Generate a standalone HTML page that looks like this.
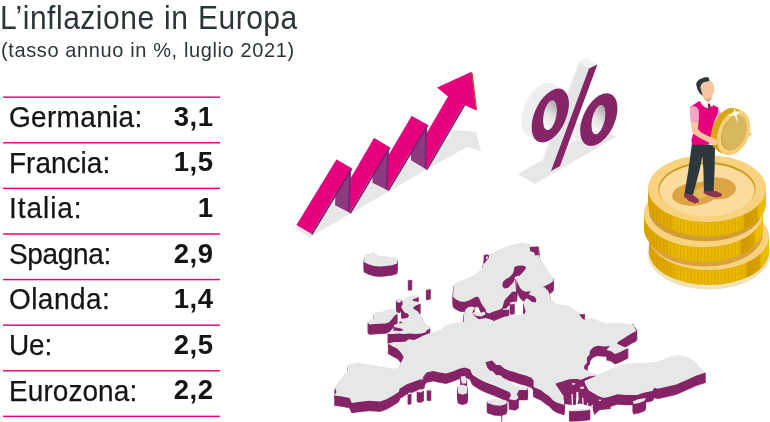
<!DOCTYPE html>
<html lang="it">
<head>
<meta charset="utf-8">
<title>L’inflazione in Europa</title>
<style>
html,body{margin:0;padding:0;background:#fff;}
body{width:770px;height:422px;position:relative;overflow:hidden;font-family:"Liberation Sans",sans-serif;color:#151515;}
h1{position:absolute;left:0.3px;top:1.8px;margin:0;font-weight:normal;font-size:32.4px;line-height:32px;letter-spacing:0.56px;word-spacing:0.65px;transform:scaleX(0.926);transform-origin:0 0;color:#2b3538;white-space:nowrap;}
p.sub{position:absolute;left:1px;top:39.2px;margin:0;font-size:21px;line-height:22px;letter-spacing:0.65px;transform:scaleX(0.952);transform-origin:0 0;color:#2b3538;white-space:nowrap;}
.tbl{position:absolute;left:0;top:0;}
.row{position:absolute;left:3px;width:217px;height:45.6px;box-sizing:border-box;}
.row .lab{position:absolute;left:6.1px;top:3.8px;-webkit-text-stroke:0.25px #151515;font-size:29.4px;line-height:32px;letter-spacing:0.47px;transform:scaleX(0.952);transform-origin:0 0;white-space:nowrap;}
.row .val{position:absolute;right:6.5px;top:3.7px;font-size:27.5px;line-height:32px;font-weight:bold;letter-spacing:0.5px;white-space:nowrap;}
svg{position:absolute;left:0;top:0;}
</style>
</head>
<body>
<h1>L’inflazione in Europa</h1>
<p class="sub">(tasso annuo in %, luglio 2021)</p>
<div class="tbl">
<div class="row" style="top:97.2px"><span class="lab" style="letter-spacing:0.34px">Germania:</span><span class="val">3,1</span></div>
<div class="row" style="top:142.8px"><span class="lab" style="letter-spacing:0.02px">Francia:</span><span class="val">1,5</span></div>
<div class="row" style="top:188.4px"><span class="lab" style="letter-spacing:1.0px">Italia:</span><span class="val">1</span></div>
<div class="row" style="top:234.0px"><span class="lab" style="letter-spacing:-0.34px">Spagna:</span><span class="val">2,9</span></div>
<div class="row" style="top:279.6px"><span class="lab" style="letter-spacing:0.47px">Olanda:</span><span class="val">1,4</span></div>
<div class="row" style="top:325.2px"><span class="lab" style="letter-spacing:-0.2px">Ue:</span><span class="val">2,5</span></div>
<div class="row" style="top:370.8px"><span class="lab" style="letter-spacing:0.08px">Eurozona:</span><span class="val">2,2</span></div>
</div>
<svg width="770" height="422" viewBox="0 0 770 422">
<g id="rules"><rect x="3" y="96.45" width="217" height="1.45" fill="#e6007e"/><rect x="3" y="142.05" width="217" height="1.45" fill="#e6007e"/><rect x="3" y="187.65" width="217" height="1.45" fill="#e6007e"/><rect x="3" y="233.25" width="217" height="1.45" fill="#e6007e"/><rect x="3" y="278.85" width="217" height="1.45" fill="#e6007e"/><rect x="3" y="324.45" width="217" height="1.45" fill="#e6007e"/><rect x="3" y="370.05" width="217" height="1.45" fill="#e6007e"/><rect x="3" y="415.65" width="217" height="1.45" fill="#e6007e"/></g>
<g id="europe"><path d="M364.4 267.6L366 264.4L370 264L373 262L376.4 264.4L380 266L386 266.4L392 267L396 267.6L397.2 269.6L397 273.6L392 275.2L386 276L380 276.6L374 276L369 274.4L364 272ZM408 289.4L411.6 289L412 290L408.4 290.2ZM426 299.2L430 298L430.6 299L426.6 300ZM367.8 332.3L368.8 330.8L373.5 328.4L374.2 324.1L376.4 322L381.3 322L385.6 320.3L390.6 318.9L394.1 319.2L396.3 321.3L397.3 324.1L394.8 325.6L392 329.1L389.1 332.3L385.6 333.4L379.9 333.7L374.2 334.1L369.2 334.5ZM402.7 310.9L405.2 308.1L409.1 306.4L413.3 305.7L416.9 305L418.6 306.4L416.9 308.1L413.3 308.9L412.3 310.4L416.2 311.4L419.7 312.3L420.4 313.8L416.9 314.9L414.7 316.3L412.9 318L414.7 319.5L417.6 321.3L419.7 324.1L421.9 327.7L423.3 331.3L426.1 334.1L429.7 336.5L429.7 338.8L426.8 340.2L425.4 342.6L421.1 343.6L415.5 344.1L409.8 343.6L404.1 344.1L398.4 343.6L393.4 344.1L388.4 344.1L387.7 343.1L391.3 341.6L395.5 340.5L399.8 341.2L403.4 340.2L401.2 338.4L397.3 337.7L394.1 336.9L393.8 335.1L396.3 334.1L399.8 333.4L402.7 332.7L399.8 331.3L400.5 329.1L404.1 328.4L407.6 327.7L409.1 325.6L407.6 323.4L404.8 322.7L402.7 319.9L401.2 317L402.7 314.2ZM396.3 309.2L400.5 308.1L401.9 309.9L399.8 312.8L396.7 312.1ZM453.1 307.1L453.6 295.7L455.7 292.9L461.4 290.7L468.6 287.9L475.7 284.3L480 280.7L482.9 277.1L483.6 271.4L484.3 268.6L490 264.3L495.7 261.4L501.4 258.6L508.6 256L515.7 254L521.4 252.9L528.6 254L532.9 255.4L538.6 256.4L538.9 264.3L540 268.6L542.9 272.9L546.4 278.6L550 284.3L553 287L553.3 291L550 293.6L542.9 297.1L537.1 299.3L531.4 301.1L525.7 301.7L522.9 300.7L520 297.9L518.3 294.3L516.7 290.7L517.9 287.4L520.3 285L523.1 282.1L525.4 279.3L526 276.9L522.9 275.4L517.9 275.7L514.3 277.1L514 280.3L512.6 283.7L509.7 286.9L505.7 289.3L502.9 292.1L502.3 295.7L504 298.6L507.9 298L511.4 294.6L514.9 291.1L516.7 290.9L516.7 301.4L512.1 301.7L510 304.3L506.4 307.9L504.3 310.7L503.1 315L502.1 318.3L498.6 320L493.6 321.4L489.3 323.6L486.4 322.6L485.4 318.9L482.9 315.7L480.7 312.1L479.3 308.6L477.4 306.4L474.3 307.4L470 310L465 311.7L460 311.4L455.7 309.3ZM387.9 353.6L394.3 352.1L401.4 352.1L405.7 351.4L408.6 349.3L414.3 350L418.6 347.9L422.9 345.7L428.6 343.6L434.3 342.1L440 340L442.9 337.9L445.7 335.4L450 334L454.3 333.1L460 332.6L464.3 331.7L463.6 330.7L464 323.6L465.7 319.3L468.6 316.9L472.1 316.4L474.3 317.4L473.6 320L472.1 322.9L474.3 325.7L478.6 329.3L482.9 328.6L485.7 327.9L490 329.3L493.9 330.9L497.4 329.6L504.3 326.7L511.4 325.4L520 324.9L524.3 324L525.7 321.4L524.3 317.1L523.6 313.6L525.1 309.7L527.9 306.9L530 301.7L537.1 298.6L544.3 297.1L548.6 301.4L550.7 308.6L555.7 313.6L561.4 315L568.6 315.7L572.9 319.3L580 322.9L584.3 325L585 329.3L591.4 327.9L597.1 330L605.7 333.6L615.7 332.9L627.1 333.6L632.9 335L637.1 340L632.9 332.9L633.6 335.7L636.4 341.1L631.4 343.6L624.3 347.9L618.6 351.4L616.9 353.6L622.9 356.4L628.3 357.9L624.3 360L619.3 362.6L615 364L610.7 361.1L606.4 360L610 356L604.3 356.4L597.9 355.7L593.6 357.1L590 360.7L589.3 365L587.1 367.1L586.9 372.9L584.3 375.7L584 378.6L588.6 381.4L597.1 385.4L588.6 386.4L584.3 388.6L588.6 386.3L582.9 389.1L580 389.9L574.3 389.1L567.1 389.9L562.9 392L558.6 394.9L555 393.4L557.1 396.3L560 400.6L563.6 406.3L564.3 414.1L563.6 414.9L561.4 414.1L557.1 412.7L552.9 410.3L549.3 406.3L545.7 404.1L541.4 400.6L537.1 398.4L533.6 397L533.6 390.6L531.4 387.7L525.7 385.6L520 384.1L514.3 382L508.6 380.6L504.3 378.4L500 374.9L496.3 374.9L491.9 370.5L485.4 372.2L487.5 378.1L494.1 384.7L507.1 389.7L515.9 396.2L527.8 397.1L527.2 399.9L519.1 399.9L516.9 404.3L518.5 408L515.4 410.2L508.9 409.3L511.1 404.9L509.3 402.1L502.8 399.3L494.1 395.6L485.4 392.3L478.8 389L472.3 384.7L470.1 379.2L464.7 377.5L459.2 378.8L452.7 381.4L446.1 383.6L439.6 382.5L433.1 381L426.5 382.5L420 391.2L424.8 387.5L417.1 390.5L406.3 394.5L399.7 398.8L398.6 402.1L393.2 405.4L386.6 409.3L380.1 411.5L369.2 410.8L358.3 411.9L351.8 413L349.6 408L342 406.4L334.4 405.4L336.5 402.1L334.8 397.7L337.6 393.4L343.1 386.8L347.4 380.3L348.5 374.9L356.1 372.7L369.2 374.4L382.3 377L395.4 378.8L399.7 375.9L401.4 372.1L403.6 367.1L402.1 364.3L400 361.4L397.1 358.6L392.9 356.4ZM597.1 385.4L605.7 381.4L612.9 377.9L618.6 376L627.1 373.6L634.3 373.6L644.3 372.9L655.7 372.1L664.3 369.3L670 366.4L678.4 365.1L687.1 367.2L693.7 370.5L698 375.9L705.7 382.5L695.9 385.8L687.1 389.7L676.3 394.5L665.4 397.1L657.7 398.8L654.5 397.7L652.3 401L643.6 402.7L637 404.9L626.1 404.9L617.4 404.3L608.7 407.1L600 408.6L597.1 405.6L588.6 400.6L585.7 395.6L584.3 391.3L588.6 389.1L597.1 385.6ZM632.7 411.5L638.1 409.3L645.8 408L644.7 410.8L639.2 413L633.8 414.1ZM569.3 419.9L580 418.9L590 418.4L589.7 419.9L580 420.9L569.7 421.3ZM487.1 410.8L491.9 409.3L500.6 409.7L507.1 410.8L506.1 414.1L500.6 415.8L494.1 415.2L487.5 413ZM460.7 386.8L464.7 385.8L466.8 389L466.2 393.4L461.8 393.4ZM457.5 396.2L462.5 394.5L467.5 396.2L467.1 403.2L462.5 404.7L458.1 403.2ZM408 403L411 402.4L411 404L408 404.4ZM417 400.4L421 399L424 400.4L421 402.4L417.4 402ZM427 399.2L430.6 398.8L431 400.4L427.4 400.8ZM472.1 322.9L475.7 321.4L480 322.9L484.3 321.4L485.7 324.3L481.4 326.4L475.7 325.7ZM510 312.6L514 312L514.3 314L510.3 314.4ZM502.9 318.9L508.6 318L508.9 319.4L503.1 320ZM364.4 266.6L366 263.4L370 263L373 261L376.4 263.4L380 265L386 265.4L392 266L396 266.6L397.2 268.6L397 272.6L392 274.2L386 275L380 275.6L374 275L369 273.4L364 271ZM408 288.4L411.6 288L412 289L408.4 289.2ZM426 298.2L430 297L430.6 298L426.6 299ZM367.8 331.3L368.8 329.8L373.5 327.4L374.2 323.1L376.4 321L381.3 321L385.6 319.3L390.6 317.9L394.1 318.2L396.3 320.3L397.3 323.1L394.8 324.6L392 328.1L389.1 331.3L385.6 332.4L379.9 332.7L374.2 333.1L369.2 333.5ZM402.7 309.9L405.2 307.1L409.1 305.4L413.3 304.7L416.9 304L418.6 305.4L416.9 307.1L413.3 307.9L412.3 309.4L416.2 310.4L419.7 311.3L420.4 312.8L416.9 313.9L414.7 315.3L412.9 317L414.7 318.5L417.6 320.3L419.7 323.1L421.9 326.7L423.3 330.3L426.1 333.1L429.7 335.5L429.7 337.8L426.8 339.2L425.4 341.6L421.1 342.6L415.5 343.1L409.8 342.6L404.1 343.1L398.4 342.6L393.4 343.1L388.4 343.1L387.7 342.1L391.3 340.6L395.5 339.5L399.8 340.2L403.4 339.2L401.2 337.4L397.3 336.7L394.1 335.9L393.8 334.1L396.3 333.1L399.8 332.4L402.7 331.7L399.8 330.3L400.5 328.1L404.1 327.4L407.6 326.7L409.1 324.6L407.6 322.4L404.8 321.7L402.7 318.9L401.2 316L402.7 313.2ZM396.3 308.2L400.5 307.1L401.9 308.9L399.8 311.8L396.7 311.1ZM453.1 306.1L453.6 294.7L455.7 291.9L461.4 289.7L468.6 286.9L475.7 283.3L480 279.7L482.9 276.1L483.6 270.4L484.3 267.6L490 263.3L495.7 260.4L501.4 257.6L508.6 255L515.7 253L521.4 251.9L528.6 253L532.9 254.4L538.6 255.4L538.9 263.3L540 267.6L542.9 271.9L546.4 277.6L550 283.3L553 286L553.3 290L550 292.6L542.9 296.1L537.1 298.3L531.4 300.1L525.7 300.7L522.9 299.7L520 296.9L518.3 293.3L516.7 289.7L517.9 286.4L520.3 284L523.1 281.1L525.4 278.3L526 275.9L522.9 274.4L517.9 274.7L514.3 276.1L514 279.3L512.6 282.7L509.7 285.9L505.7 288.3L502.9 291.1L502.3 294.7L504 297.6L507.9 297L511.4 293.6L514.9 290.1L516.7 289.9L516.7 300.4L512.1 300.7L510 303.3L506.4 306.9L504.3 309.7L503.1 314L502.1 317.3L498.6 319L493.6 320.4L489.3 322.6L486.4 321.6L485.4 317.9L482.9 314.7L480.7 311.1L479.3 307.6L477.4 305.4L474.3 306.4L470 309L465 310.7L460 310.4L455.7 308.3ZM387.9 352.6L394.3 351.1L401.4 351.1L405.7 350.4L408.6 348.3L414.3 349L418.6 346.9L422.9 344.7L428.6 342.6L434.3 341.1L440 339L442.9 336.9L445.7 334.4L450 333L454.3 332.1L460 331.6L464.3 330.7L463.6 329.7L464 322.6L465.7 318.3L468.6 315.9L472.1 315.4L474.3 316.4L473.6 319L472.1 321.9L474.3 324.7L478.6 328.3L482.9 327.6L485.7 326.9L490 328.3L493.9 329.9L497.4 328.6L504.3 325.7L511.4 324.4L520 323.9L524.3 323L525.7 320.4L524.3 316.1L523.6 312.6L525.1 308.7L527.9 305.9L530 300.7L537.1 297.6L544.3 296.1L548.6 300.4L550.7 307.6L555.7 312.6L561.4 314L568.6 314.7L572.9 318.3L580 321.9L584.3 324L585 328.3L591.4 326.9L597.1 329L605.7 332.6L615.7 331.9L627.1 332.6L632.9 334L637.1 339L632.9 331.9L633.6 334.7L636.4 340.1L631.4 342.6L624.3 346.9L618.6 350.4L616.9 352.6L622.9 355.4L628.3 356.9L624.3 359L619.3 361.6L615 363L610.7 360.1L606.4 359L610 355L604.3 355.4L597.9 354.7L593.6 356.1L590 359.7L589.3 364L587.1 366.1L586.9 371.9L584.3 374.7L584 377.6L588.6 380.4L597.1 384.4L588.6 385.4L584.3 387.6L588.6 385.3L582.9 388.1L580 388.9L574.3 388.1L567.1 388.9L562.9 391L558.6 393.9L555 392.4L557.1 395.3L560 399.6L563.6 405.3L564.3 413.1L563.6 413.9L561.4 413.1L557.1 411.7L552.9 409.3L549.3 405.3L545.7 403.1L541.4 399.6L537.1 397.4L533.6 396L533.6 389.6L531.4 386.7L525.7 384.6L520 383.1L514.3 381L508.6 379.6L504.3 377.4L500 373.9L496.3 373.9L491.9 369.5L485.4 371.2L487.5 377.1L494.1 383.7L507.1 388.7L515.9 395.2L527.8 396.1L527.2 398.9L519.1 398.9L516.9 403.3L518.5 407L515.4 409.2L508.9 408.3L511.1 403.9L509.3 401.1L502.8 398.3L494.1 394.6L485.4 391.3L478.8 388L472.3 383.7L470.1 378.2L464.7 376.5L459.2 377.8L452.7 380.4L446.1 382.6L439.6 381.5L433.1 380L426.5 381.5L420 390.2L424.8 386.5L417.1 389.5L406.3 393.5L399.7 397.8L398.6 401.1L393.2 404.4L386.6 408.3L380.1 410.5L369.2 409.8L358.3 410.9L351.8 412L349.6 407L342 405.4L334.4 404.4L336.5 401.1L334.8 396.7L337.6 392.4L343.1 385.8L347.4 379.3L348.5 373.9L356.1 371.7L369.2 373.4L382.3 376L395.4 377.8L399.7 374.9L401.4 371.1L403.6 366.1L402.1 363.3L400 360.4L397.1 357.6L392.9 355.4ZM597.1 384.4L605.7 380.4L612.9 376.9L618.6 375L627.1 372.6L634.3 372.6L644.3 371.9L655.7 371.1L664.3 368.3L670 365.4L678.4 364.1L687.1 366.2L693.7 369.5L698 374.9L705.7 381.5L695.9 384.8L687.1 388.7L676.3 393.5L665.4 396.1L657.7 397.8L654.5 396.7L652.3 400L643.6 401.7L637 403.9L626.1 403.9L617.4 403.3L608.7 406.1L600 407.6L597.1 404.6L588.6 399.6L585.7 394.6L584.3 390.3L588.6 388.1L597.1 384.6ZM632.7 410.5L638.1 408.3L645.8 407L644.7 409.8L639.2 412L633.8 413.1ZM569.3 418.9L580 417.9L590 417.4L589.7 418.9L580 419.9L569.7 420.3ZM487.1 409.8L491.9 408.3L500.6 408.7L507.1 409.8L506.1 413.1L500.6 414.8L494.1 414.2L487.5 412ZM460.7 385.8L464.7 384.8L466.8 388L466.2 392.4L461.8 392.4ZM457.5 395.2L462.5 393.5L467.5 395.2L467.1 402.2L462.5 403.7L458.1 402.2ZM408 402L411 401.4L411 403L408 403.4ZM417 399.4L421 398L424 399.4L421 401.4L417.4 401ZM427 398.2L430.6 397.8L431 399.4L427.4 399.8ZM472.1 321.9L475.7 320.4L480 321.9L484.3 320.4L485.7 323.3L481.4 325.4L475.7 324.7ZM510 311.6L514 311L514.3 313L510.3 313.4ZM502.9 317.9L508.6 317L508.9 318.4L503.1 319ZM364.4 265.6L366 262.4L370 262L373 260L376.4 262.4L380 264L386 264.4L392 265L396 265.6L397.2 267.6L397 271.6L392 273.2L386 274L380 274.6L374 274L369 272.4L364 270ZM408 287.4L411.6 287L412 288L408.4 288.2ZM426 297.2L430 296L430.6 297L426.6 298ZM367.8 330.3L368.8 328.8L373.5 326.4L374.2 322.1L376.4 320L381.3 320L385.6 318.3L390.6 316.9L394.1 317.2L396.3 319.3L397.3 322.1L394.8 323.6L392 327.1L389.1 330.3L385.6 331.4L379.9 331.7L374.2 332.1L369.2 332.5ZM402.7 308.9L405.2 306.1L409.1 304.4L413.3 303.7L416.9 303L418.6 304.4L416.9 306.1L413.3 306.9L412.3 308.4L416.2 309.4L419.7 310.3L420.4 311.8L416.9 312.9L414.7 314.3L412.9 316L414.7 317.5L417.6 319.3L419.7 322.1L421.9 325.7L423.3 329.3L426.1 332.1L429.7 334.5L429.7 336.8L426.8 338.2L425.4 340.6L421.1 341.6L415.5 342.1L409.8 341.6L404.1 342.1L398.4 341.6L393.4 342.1L388.4 342.1L387.7 341.1L391.3 339.6L395.5 338.5L399.8 339.2L403.4 338.2L401.2 336.4L397.3 335.7L394.1 334.9L393.8 333.1L396.3 332.1L399.8 331.4L402.7 330.7L399.8 329.3L400.5 327.1L404.1 326.4L407.6 325.7L409.1 323.6L407.6 321.4L404.8 320.7L402.7 317.9L401.2 315L402.7 312.2ZM396.3 307.2L400.5 306.1L401.9 307.9L399.8 310.8L396.7 310.1ZM453.1 305.1L453.6 293.7L455.7 290.9L461.4 288.7L468.6 285.9L475.7 282.3L480 278.7L482.9 275.1L483.6 269.4L484.3 266.6L490 262.3L495.7 259.4L501.4 256.6L508.6 254L515.7 252L521.4 250.9L528.6 252L532.9 253.4L538.6 254.4L538.9 262.3L540 266.6L542.9 270.9L546.4 276.6L550 282.3L553 285L553.3 289L550 291.6L542.9 295.1L537.1 297.3L531.4 299.1L525.7 299.7L522.9 298.7L520 295.9L518.3 292.3L516.7 288.7L517.9 285.4L520.3 283L523.1 280.1L525.4 277.3L526 274.9L522.9 273.4L517.9 273.7L514.3 275.1L514 278.3L512.6 281.7L509.7 284.9L505.7 287.3L502.9 290.1L502.3 293.7L504 296.6L507.9 296L511.4 292.6L514.9 289.1L516.7 288.9L516.7 299.4L512.1 299.7L510 302.3L506.4 305.9L504.3 308.7L503.1 313L502.1 316.3L498.6 318L493.6 319.4L489.3 321.6L486.4 320.6L485.4 316.9L482.9 313.7L480.7 310.1L479.3 306.6L477.4 304.4L474.3 305.4L470 308L465 309.7L460 309.4L455.7 307.3ZM387.9 351.6L394.3 350.1L401.4 350.1L405.7 349.4L408.6 347.3L414.3 348L418.6 345.9L422.9 343.7L428.6 341.6L434.3 340.1L440 338L442.9 335.9L445.7 333.4L450 332L454.3 331.1L460 330.6L464.3 329.7L463.6 328.7L464 321.6L465.7 317.3L468.6 314.9L472.1 314.4L474.3 315.4L473.6 318L472.1 320.9L474.3 323.7L478.6 327.3L482.9 326.6L485.7 325.9L490 327.3L493.9 328.9L497.4 327.6L504.3 324.7L511.4 323.4L520 322.9L524.3 322L525.7 319.4L524.3 315.1L523.6 311.6L525.1 307.7L527.9 304.9L530 299.7L537.1 296.6L544.3 295.1L548.6 299.4L550.7 306.6L555.7 311.6L561.4 313L568.6 313.7L572.9 317.3L580 320.9L584.3 323L585 327.3L591.4 325.9L597.1 328L605.7 331.6L615.7 330.9L627.1 331.6L632.9 333L637.1 338L632.9 330.9L633.6 333.7L636.4 339.1L631.4 341.6L624.3 345.9L618.6 349.4L616.9 351.6L622.9 354.4L628.3 355.9L624.3 358L619.3 360.6L615 362L610.7 359.1L606.4 358L610 354L604.3 354.4L597.9 353.7L593.6 355.1L590 358.7L589.3 363L587.1 365.1L586.9 370.9L584.3 373.7L584 376.6L588.6 379.4L597.1 383.4L588.6 384.4L584.3 386.6L588.6 384.3L582.9 387.1L580 387.9L574.3 387.1L567.1 387.9L562.9 390L558.6 392.9L555 391.4L557.1 394.3L560 398.6L563.6 404.3L564.3 412.1L563.6 412.9L561.4 412.1L557.1 410.7L552.9 408.3L549.3 404.3L545.7 402.1L541.4 398.6L537.1 396.4L533.6 395L533.6 388.6L531.4 385.7L525.7 383.6L520 382.1L514.3 380L508.6 378.6L504.3 376.4L500 372.9L496.3 372.9L491.9 368.5L485.4 370.2L487.5 376.1L494.1 382.7L507.1 387.7L515.9 394.2L527.8 395.1L527.2 397.9L519.1 397.9L516.9 402.3L518.5 406L515.4 408.2L508.9 407.3L511.1 402.9L509.3 400.1L502.8 397.3L494.1 393.6L485.4 390.3L478.8 387L472.3 382.7L470.1 377.2L464.7 375.5L459.2 376.8L452.7 379.4L446.1 381.6L439.6 380.5L433.1 379L426.5 380.5L420 389.2L424.8 385.5L417.1 388.5L406.3 392.5L399.7 396.8L398.6 400.1L393.2 403.4L386.6 407.3L380.1 409.5L369.2 408.8L358.3 409.9L351.8 411L349.6 406L342 404.4L334.4 403.4L336.5 400.1L334.8 395.7L337.6 391.4L343.1 384.8L347.4 378.3L348.5 372.9L356.1 370.7L369.2 372.4L382.3 375L395.4 376.8L399.7 373.9L401.4 370.1L403.6 365.1L402.1 362.3L400 359.4L397.1 356.6L392.9 354.4ZM597.1 383.4L605.7 379.4L612.9 375.9L618.6 374L627.1 371.6L634.3 371.6L644.3 370.9L655.7 370.1L664.3 367.3L670 364.4L678.4 363.1L687.1 365.2L693.7 368.5L698 373.9L705.7 380.5L695.9 383.8L687.1 387.7L676.3 392.5L665.4 395.1L657.7 396.8L654.5 395.7L652.3 399L643.6 400.7L637 402.9L626.1 402.9L617.4 402.3L608.7 405.1L600 406.6L597.1 403.6L588.6 398.6L585.7 393.6L584.3 389.3L588.6 387.1L597.1 383.6ZM632.7 409.5L638.1 407.3L645.8 406L644.7 408.8L639.2 411L633.8 412.1ZM569.3 417.9L580 416.9L590 416.4L589.7 417.9L580 418.9L569.7 419.3ZM487.1 408.8L491.9 407.3L500.6 407.7L507.1 408.8L506.1 412.1L500.6 413.8L494.1 413.2L487.5 411ZM460.7 384.8L464.7 383.8L466.8 387L466.2 391.4L461.8 391.4ZM457.5 394.2L462.5 392.5L467.5 394.2L467.1 401.2L462.5 402.7L458.1 401.2ZM408 401L411 400.4L411 402L408 402.4ZM417 398.4L421 397L424 398.4L421 400.4L417.4 400ZM427 397.2L430.6 396.8L431 398.4L427.4 398.8ZM472.1 320.9L475.7 319.4L480 320.9L484.3 319.4L485.7 322.3L481.4 324.4L475.7 323.7ZM510 310.6L514 310L514.3 312L510.3 312.4ZM502.9 316.9L508.6 316L508.9 317.4L503.1 318ZM364.4 264.6L366 261.4L370 261L373 259L376.4 261.4L380 263L386 263.4L392 264L396 264.6L397.2 266.6L397 270.6L392 272.2L386 273L380 273.6L374 273L369 271.4L364 269ZM408 286.4L411.6 286L412 287L408.4 287.2ZM426 296.2L430 295L430.6 296L426.6 297ZM367.8 329.3L368.8 327.8L373.5 325.4L374.2 321.1L376.4 319L381.3 319L385.6 317.3L390.6 315.9L394.1 316.2L396.3 318.3L397.3 321.1L394.8 322.6L392 326.1L389.1 329.3L385.6 330.4L379.9 330.7L374.2 331.1L369.2 331.5ZM402.7 307.9L405.2 305.1L409.1 303.4L413.3 302.7L416.9 302L418.6 303.4L416.9 305.1L413.3 305.9L412.3 307.4L416.2 308.4L419.7 309.3L420.4 310.8L416.9 311.9L414.7 313.3L412.9 315L414.7 316.5L417.6 318.3L419.7 321.1L421.9 324.7L423.3 328.3L426.1 331.1L429.7 333.5L429.7 335.8L426.8 337.2L425.4 339.6L421.1 340.6L415.5 341.1L409.8 340.6L404.1 341.1L398.4 340.6L393.4 341.1L388.4 341.1L387.7 340.1L391.3 338.6L395.5 337.5L399.8 338.2L403.4 337.2L401.2 335.4L397.3 334.7L394.1 333.9L393.8 332.1L396.3 331.1L399.8 330.4L402.7 329.7L399.8 328.3L400.5 326.1L404.1 325.4L407.6 324.7L409.1 322.6L407.6 320.4L404.8 319.7L402.7 316.9L401.2 314L402.7 311.2ZM396.3 306.2L400.5 305.1L401.9 306.9L399.8 309.8L396.7 309.1ZM453.1 304.1L453.6 292.7L455.7 289.9L461.4 287.7L468.6 284.9L475.7 281.3L480 277.7L482.9 274.1L483.6 268.4L484.3 265.6L490 261.3L495.7 258.4L501.4 255.6L508.6 253L515.7 251L521.4 249.9L528.6 251L532.9 252.4L538.6 253.4L538.9 261.3L540 265.6L542.9 269.9L546.4 275.6L550 281.3L553 284L553.3 288L550 290.6L542.9 294.1L537.1 296.3L531.4 298.1L525.7 298.7L522.9 297.7L520 294.9L518.3 291.3L516.7 287.7L517.9 284.4L520.3 282L523.1 279.1L525.4 276.3L526 273.9L522.9 272.4L517.9 272.7L514.3 274.1L514 277.3L512.6 280.7L509.7 283.9L505.7 286.3L502.9 289.1L502.3 292.7L504 295.6L507.9 295L511.4 291.6L514.9 288.1L516.7 287.9L516.7 298.4L512.1 298.7L510 301.3L506.4 304.9L504.3 307.7L503.1 312L502.1 315.3L498.6 317L493.6 318.4L489.3 320.6L486.4 319.6L485.4 315.9L482.9 312.7L480.7 309.1L479.3 305.6L477.4 303.4L474.3 304.4L470 307L465 308.7L460 308.4L455.7 306.3ZM387.9 350.6L394.3 349.1L401.4 349.1L405.7 348.4L408.6 346.3L414.3 347L418.6 344.9L422.9 342.7L428.6 340.6L434.3 339.1L440 337L442.9 334.9L445.7 332.4L450 331L454.3 330.1L460 329.6L464.3 328.7L463.6 327.7L464 320.6L465.7 316.3L468.6 313.9L472.1 313.4L474.3 314.4L473.6 317L472.1 319.9L474.3 322.7L478.6 326.3L482.9 325.6L485.7 324.9L490 326.3L493.9 327.9L497.4 326.6L504.3 323.7L511.4 322.4L520 321.9L524.3 321L525.7 318.4L524.3 314.1L523.6 310.6L525.1 306.7L527.9 303.9L530 298.7L537.1 295.6L544.3 294.1L548.6 298.4L550.7 305.6L555.7 310.6L561.4 312L568.6 312.7L572.9 316.3L580 319.9L584.3 322L585 326.3L591.4 324.9L597.1 327L605.7 330.6L615.7 329.9L627.1 330.6L632.9 332L637.1 337L632.9 329.9L633.6 332.7L636.4 338.1L631.4 340.6L624.3 344.9L618.6 348.4L616.9 350.6L622.9 353.4L628.3 354.9L624.3 357L619.3 359.6L615 361L610.7 358.1L606.4 357L610 353L604.3 353.4L597.9 352.7L593.6 354.1L590 357.7L589.3 362L587.1 364.1L586.9 369.9L584.3 372.7L584 375.6L588.6 378.4L597.1 382.4L588.6 383.4L584.3 385.6L588.6 383.3L582.9 386.1L580 386.9L574.3 386.1L567.1 386.9L562.9 389L558.6 391.9L555 390.4L557.1 393.3L560 397.6L563.6 403.3L564.3 411.1L563.6 411.9L561.4 411.1L557.1 409.7L552.9 407.3L549.3 403.3L545.7 401.1L541.4 397.6L537.1 395.4L533.6 394L533.6 387.6L531.4 384.7L525.7 382.6L520 381.1L514.3 379L508.6 377.6L504.3 375.4L500 371.9L496.3 371.9L491.9 367.5L485.4 369.2L487.5 375.1L494.1 381.7L507.1 386.7L515.9 393.2L527.8 394.1L527.2 396.9L519.1 396.9L516.9 401.3L518.5 405L515.4 407.2L508.9 406.3L511.1 401.9L509.3 399.1L502.8 396.3L494.1 392.6L485.4 389.3L478.8 386L472.3 381.7L470.1 376.2L464.7 374.5L459.2 375.8L452.7 378.4L446.1 380.6L439.6 379.5L433.1 378L426.5 379.5L420 388.2L424.8 384.5L417.1 387.5L406.3 391.5L399.7 395.8L398.6 399.1L393.2 402.4L386.6 406.3L380.1 408.5L369.2 407.8L358.3 408.9L351.8 410L349.6 405L342 403.4L334.4 402.4L336.5 399.1L334.8 394.7L337.6 390.4L343.1 383.8L347.4 377.3L348.5 371.9L356.1 369.7L369.2 371.4L382.3 374L395.4 375.8L399.7 372.9L401.4 369.1L403.6 364.1L402.1 361.3L400 358.4L397.1 355.6L392.9 353.4ZM597.1 382.4L605.7 378.4L612.9 374.9L618.6 373L627.1 370.6L634.3 370.6L644.3 369.9L655.7 369.1L664.3 366.3L670 363.4L678.4 362.1L687.1 364.2L693.7 367.5L698 372.9L705.7 379.5L695.9 382.8L687.1 386.7L676.3 391.5L665.4 394.1L657.7 395.8L654.5 394.7L652.3 398L643.6 399.7L637 401.9L626.1 401.9L617.4 401.3L608.7 404.1L600 405.6L597.1 402.6L588.6 397.6L585.7 392.6L584.3 388.3L588.6 386.1L597.1 382.6ZM632.7 408.5L638.1 406.3L645.8 405L644.7 407.8L639.2 410L633.8 411.1ZM569.3 416.9L580 415.9L590 415.4L589.7 416.9L580 417.9L569.7 418.3ZM487.1 407.8L491.9 406.3L500.6 406.7L507.1 407.8L506.1 411.1L500.6 412.8L494.1 412.2L487.5 410ZM460.7 383.8L464.7 382.8L466.8 386L466.2 390.4L461.8 390.4ZM457.5 393.2L462.5 391.5L467.5 393.2L467.1 400.2L462.5 401.7L458.1 400.2ZM408 400L411 399.4L411 401L408 401.4ZM417 397.4L421 396L424 397.4L421 399.4L417.4 399ZM427 396.2L430.6 395.8L431 397.4L427.4 397.8ZM472.1 319.9L475.7 318.4L480 319.9L484.3 318.4L485.7 321.3L481.4 323.4L475.7 322.7ZM510 309.6L514 309L514.3 311L510.3 311.4ZM502.9 315.9L508.6 315L508.9 316.4L503.1 317ZM364.4 263.6L366 260.4L370 260L373 258L376.4 260.4L380 262L386 262.4L392 263L396 263.6L397.2 265.6L397 269.6L392 271.2L386 272L380 272.6L374 272L369 270.4L364 268ZM408 285.4L411.6 285L412 286L408.4 286.2ZM426 295.2L430 294L430.6 295L426.6 296ZM367.8 328.3L368.8 326.8L373.5 324.4L374.2 320.1L376.4 318L381.3 318L385.6 316.3L390.6 314.9L394.1 315.2L396.3 317.3L397.3 320.1L394.8 321.6L392 325.1L389.1 328.3L385.6 329.4L379.9 329.7L374.2 330.1L369.2 330.5ZM402.7 306.9L405.2 304.1L409.1 302.4L413.3 301.7L416.9 301L418.6 302.4L416.9 304.1L413.3 304.9L412.3 306.4L416.2 307.4L419.7 308.3L420.4 309.8L416.9 310.9L414.7 312.3L412.9 314L414.7 315.5L417.6 317.3L419.7 320.1L421.9 323.7L423.3 327.3L426.1 330.1L429.7 332.5L429.7 334.8L426.8 336.2L425.4 338.6L421.1 339.6L415.5 340.1L409.8 339.6L404.1 340.1L398.4 339.6L393.4 340.1L388.4 340.1L387.7 339.1L391.3 337.6L395.5 336.5L399.8 337.2L403.4 336.2L401.2 334.4L397.3 333.7L394.1 332.9L393.8 331.1L396.3 330.1L399.8 329.4L402.7 328.7L399.8 327.3L400.5 325.1L404.1 324.4L407.6 323.7L409.1 321.6L407.6 319.4L404.8 318.7L402.7 315.9L401.2 313L402.7 310.2ZM396.3 305.2L400.5 304.1L401.9 305.9L399.8 308.8L396.7 308.1ZM453.1 303.1L453.6 291.7L455.7 288.9L461.4 286.7L468.6 283.9L475.7 280.3L480 276.7L482.9 273.1L483.6 267.4L484.3 264.6L490 260.3L495.7 257.4L501.4 254.6L508.6 252L515.7 250L521.4 248.9L528.6 250L532.9 251.4L538.6 252.4L538.9 260.3L540 264.6L542.9 268.9L546.4 274.6L550 280.3L553 283L553.3 287L550 289.6L542.9 293.1L537.1 295.3L531.4 297.1L525.7 297.7L522.9 296.7L520 293.9L518.3 290.3L516.7 286.7L517.9 283.4L520.3 281L523.1 278.1L525.4 275.3L526 272.9L522.9 271.4L517.9 271.7L514.3 273.1L514 276.3L512.6 279.7L509.7 282.9L505.7 285.3L502.9 288.1L502.3 291.7L504 294.6L507.9 294L511.4 290.6L514.9 287.1L516.7 286.9L516.7 297.4L512.1 297.7L510 300.3L506.4 303.9L504.3 306.7L503.1 311L502.1 314.3L498.6 316L493.6 317.4L489.3 319.6L486.4 318.6L485.4 314.9L482.9 311.7L480.7 308.1L479.3 304.6L477.4 302.4L474.3 303.4L470 306L465 307.7L460 307.4L455.7 305.3ZM387.9 349.6L394.3 348.1L401.4 348.1L405.7 347.4L408.6 345.3L414.3 346L418.6 343.9L422.9 341.7L428.6 339.6L434.3 338.1L440 336L442.9 333.9L445.7 331.4L450 330L454.3 329.1L460 328.6L464.3 327.7L463.6 326.7L464 319.6L465.7 315.3L468.6 312.9L472.1 312.4L474.3 313.4L473.6 316L472.1 318.9L474.3 321.7L478.6 325.3L482.9 324.6L485.7 323.9L490 325.3L493.9 326.9L497.4 325.6L504.3 322.7L511.4 321.4L520 320.9L524.3 320L525.7 317.4L524.3 313.1L523.6 309.6L525.1 305.7L527.9 302.9L530 297.7L537.1 294.6L544.3 293.1L548.6 297.4L550.7 304.6L555.7 309.6L561.4 311L568.6 311.7L572.9 315.3L580 318.9L584.3 321L585 325.3L591.4 323.9L597.1 326L605.7 329.6L615.7 328.9L627.1 329.6L632.9 331L637.1 336L632.9 328.9L633.6 331.7L636.4 337.1L631.4 339.6L624.3 343.9L618.6 347.4L616.9 349.6L622.9 352.4L628.3 353.9L624.3 356L619.3 358.6L615 360L610.7 357.1L606.4 356L610 352L604.3 352.4L597.9 351.7L593.6 353.1L590 356.7L589.3 361L587.1 363.1L586.9 368.9L584.3 371.7L584 374.6L588.6 377.4L597.1 381.4L588.6 382.4L584.3 384.6L588.6 382.3L582.9 385.1L580 385.9L574.3 385.1L567.1 385.9L562.9 388L558.6 390.9L555 389.4L557.1 392.3L560 396.6L563.6 402.3L564.3 410.1L563.6 410.9L561.4 410.1L557.1 408.7L552.9 406.3L549.3 402.3L545.7 400.1L541.4 396.6L537.1 394.4L533.6 393L533.6 386.6L531.4 383.7L525.7 381.6L520 380.1L514.3 378L508.6 376.6L504.3 374.4L500 370.9L496.3 370.9L491.9 366.5L485.4 368.2L487.5 374.1L494.1 380.7L507.1 385.7L515.9 392.2L527.8 393.1L527.2 395.9L519.1 395.9L516.9 400.3L518.5 404L515.4 406.2L508.9 405.3L511.1 400.9L509.3 398.1L502.8 395.3L494.1 391.6L485.4 388.3L478.8 385L472.3 380.7L470.1 375.2L464.7 373.5L459.2 374.8L452.7 377.4L446.1 379.6L439.6 378.5L433.1 377L426.5 378.5L420 387.2L424.8 383.5L417.1 386.5L406.3 390.5L399.7 394.8L398.6 398.1L393.2 401.4L386.6 405.3L380.1 407.5L369.2 406.8L358.3 407.9L351.8 409L349.6 404L342 402.4L334.4 401.4L336.5 398.1L334.8 393.7L337.6 389.4L343.1 382.8L347.4 376.3L348.5 370.9L356.1 368.7L369.2 370.4L382.3 373L395.4 374.8L399.7 371.9L401.4 368.1L403.6 363.1L402.1 360.3L400 357.4L397.1 354.6L392.9 352.4ZM597.1 381.4L605.7 377.4L612.9 373.9L618.6 372L627.1 369.6L634.3 369.6L644.3 368.9L655.7 368.1L664.3 365.3L670 362.4L678.4 361.1L687.1 363.2L693.7 366.5L698 371.9L705.7 378.5L695.9 381.8L687.1 385.7L676.3 390.5L665.4 393.1L657.7 394.8L654.5 393.7L652.3 397L643.6 398.7L637 400.9L626.1 400.9L617.4 400.3L608.7 403.1L600 404.6L597.1 401.6L588.6 396.6L585.7 391.6L584.3 387.3L588.6 385.1L597.1 381.6ZM632.7 407.5L638.1 405.3L645.8 404L644.7 406.8L639.2 409L633.8 410.1ZM569.3 415.9L580 414.9L590 414.4L589.7 415.9L580 416.9L569.7 417.3ZM487.1 406.8L491.9 405.3L500.6 405.7L507.1 406.8L506.1 410.1L500.6 411.8L494.1 411.2L487.5 409ZM460.7 382.8L464.7 381.8L466.8 385L466.2 389.4L461.8 389.4ZM457.5 392.2L462.5 390.5L467.5 392.2L467.1 399.2L462.5 400.7L458.1 399.2ZM408 399L411 398.4L411 400L408 400.4ZM417 396.4L421 395L424 396.4L421 398.4L417.4 398ZM427 395.2L430.6 394.8L431 396.4L427.4 396.8ZM472.1 318.9L475.7 317.4L480 318.9L484.3 317.4L485.7 320.3L481.4 322.4L475.7 321.7ZM510 308.6L514 308L514.3 310L510.3 310.4ZM502.9 314.9L508.6 314L508.9 315.4L503.1 316ZM364.4 262.6L366 259.4L370 259L373 257L376.4 259.4L380 261L386 261.4L392 262L396 262.6L397.2 264.6L397 268.6L392 270.2L386 271L380 271.6L374 271L369 269.4L364 267ZM408 284.4L411.6 284L412 285L408.4 285.2ZM426 294.2L430 293L430.6 294L426.6 295ZM367.8 327.3L368.8 325.8L373.5 323.4L374.2 319.1L376.4 317L381.3 317L385.6 315.3L390.6 313.9L394.1 314.2L396.3 316.3L397.3 319.1L394.8 320.6L392 324.1L389.1 327.3L385.6 328.4L379.9 328.7L374.2 329.1L369.2 329.5ZM402.7 305.9L405.2 303.1L409.1 301.4L413.3 300.7L416.9 300L418.6 301.4L416.9 303.1L413.3 303.9L412.3 305.4L416.2 306.4L419.7 307.3L420.4 308.8L416.9 309.9L414.7 311.3L412.9 313L414.7 314.5L417.6 316.3L419.7 319.1L421.9 322.7L423.3 326.3L426.1 329.1L429.7 331.5L429.7 333.8L426.8 335.2L425.4 337.6L421.1 338.6L415.5 339.1L409.8 338.6L404.1 339.1L398.4 338.6L393.4 339.1L388.4 339.1L387.7 338.1L391.3 336.6L395.5 335.5L399.8 336.2L403.4 335.2L401.2 333.4L397.3 332.7L394.1 331.9L393.8 330.1L396.3 329.1L399.8 328.4L402.7 327.7L399.8 326.3L400.5 324.1L404.1 323.4L407.6 322.7L409.1 320.6L407.6 318.4L404.8 317.7L402.7 314.9L401.2 312L402.7 309.2ZM396.3 304.2L400.5 303.1L401.9 304.9L399.8 307.8L396.7 307.1ZM453.1 302.1L453.6 290.7L455.7 287.9L461.4 285.7L468.6 282.9L475.7 279.3L480 275.7L482.9 272.1L483.6 266.4L484.3 263.6L490 259.3L495.7 256.4L501.4 253.6L508.6 251L515.7 249L521.4 247.9L528.6 249L532.9 250.4L538.6 251.4L538.9 259.3L540 263.6L542.9 267.9L546.4 273.6L550 279.3L553 282L553.3 286L550 288.6L542.9 292.1L537.1 294.3L531.4 296.1L525.7 296.7L522.9 295.7L520 292.9L518.3 289.3L516.7 285.7L517.9 282.4L520.3 280L523.1 277.1L525.4 274.3L526 271.9L522.9 270.4L517.9 270.7L514.3 272.1L514 275.3L512.6 278.7L509.7 281.9L505.7 284.3L502.9 287.1L502.3 290.7L504 293.6L507.9 293L511.4 289.6L514.9 286.1L516.7 285.9L516.7 296.4L512.1 296.7L510 299.3L506.4 302.9L504.3 305.7L503.1 310L502.1 313.3L498.6 315L493.6 316.4L489.3 318.6L486.4 317.6L485.4 313.9L482.9 310.7L480.7 307.1L479.3 303.6L477.4 301.4L474.3 302.4L470 305L465 306.7L460 306.4L455.7 304.3ZM387.9 348.6L394.3 347.1L401.4 347.1L405.7 346.4L408.6 344.3L414.3 345L418.6 342.9L422.9 340.7L428.6 338.6L434.3 337.1L440 335L442.9 332.9L445.7 330.4L450 329L454.3 328.1L460 327.6L464.3 326.7L463.6 325.7L464 318.6L465.7 314.3L468.6 311.9L472.1 311.4L474.3 312.4L473.6 315L472.1 317.9L474.3 320.7L478.6 324.3L482.9 323.6L485.7 322.9L490 324.3L493.9 325.9L497.4 324.6L504.3 321.7L511.4 320.4L520 319.9L524.3 319L525.7 316.4L524.3 312.1L523.6 308.6L525.1 304.7L527.9 301.9L530 296.7L537.1 293.6L544.3 292.1L548.6 296.4L550.7 303.6L555.7 308.6L561.4 310L568.6 310.7L572.9 314.3L580 317.9L584.3 320L585 324.3L591.4 322.9L597.1 325L605.7 328.6L615.7 327.9L627.1 328.6L632.9 330L637.1 335L632.9 327.9L633.6 330.7L636.4 336.1L631.4 338.6L624.3 342.9L618.6 346.4L616.9 348.6L622.9 351.4L628.3 352.9L624.3 355L619.3 357.6L615 359L610.7 356.1L606.4 355L610 351L604.3 351.4L597.9 350.7L593.6 352.1L590 355.7L589.3 360L587.1 362.1L586.9 367.9L584.3 370.7L584 373.6L588.6 376.4L597.1 380.4L588.6 381.4L584.3 383.6L588.6 381.3L582.9 384.1L580 384.9L574.3 384.1L567.1 384.9L562.9 387L558.6 389.9L555 388.4L557.1 391.3L560 395.6L563.6 401.3L564.3 409.1L563.6 409.9L561.4 409.1L557.1 407.7L552.9 405.3L549.3 401.3L545.7 399.1L541.4 395.6L537.1 393.4L533.6 392L533.6 385.6L531.4 382.7L525.7 380.6L520 379.1L514.3 377L508.6 375.6L504.3 373.4L500 369.9L496.3 369.9L491.9 365.5L485.4 367.2L487.5 373.1L494.1 379.7L507.1 384.7L515.9 391.2L527.8 392.1L527.2 394.9L519.1 394.9L516.9 399.3L518.5 403L515.4 405.2L508.9 404.3L511.1 399.9L509.3 397.1L502.8 394.3L494.1 390.6L485.4 387.3L478.8 384L472.3 379.7L470.1 374.2L464.7 372.5L459.2 373.8L452.7 376.4L446.1 378.6L439.6 377.5L433.1 376L426.5 377.5L420 386.2L424.8 382.5L417.1 385.5L406.3 389.5L399.7 393.8L398.6 397.1L393.2 400.4L386.6 404.3L380.1 406.5L369.2 405.8L358.3 406.9L351.8 408L349.6 403L342 401.4L334.4 400.4L336.5 397.1L334.8 392.7L337.6 388.4L343.1 381.8L347.4 375.3L348.5 369.9L356.1 367.7L369.2 369.4L382.3 372L395.4 373.8L399.7 370.9L401.4 367.1L403.6 362.1L402.1 359.3L400 356.4L397.1 353.6L392.9 351.4ZM597.1 380.4L605.7 376.4L612.9 372.9L618.6 371L627.1 368.6L634.3 368.6L644.3 367.9L655.7 367.1L664.3 364.3L670 361.4L678.4 360.1L687.1 362.2L693.7 365.5L698 370.9L705.7 377.5L695.9 380.8L687.1 384.7L676.3 389.5L665.4 392.1L657.7 393.8L654.5 392.7L652.3 396L643.6 397.7L637 399.9L626.1 399.9L617.4 399.3L608.7 402.1L600 403.6L597.1 400.6L588.6 395.6L585.7 390.6L584.3 386.3L588.6 384.1L597.1 380.6ZM632.7 406.5L638.1 404.3L645.8 403L644.7 405.8L639.2 408L633.8 409.1ZM569.3 414.9L580 413.9L590 413.4L589.7 414.9L580 415.9L569.7 416.3ZM487.1 405.8L491.9 404.3L500.6 404.7L507.1 405.8L506.1 409.1L500.6 410.8L494.1 410.2L487.5 408ZM460.7 381.8L464.7 380.8L466.8 384L466.2 388.4L461.8 388.4ZM457.5 391.2L462.5 389.5L467.5 391.2L467.1 398.2L462.5 399.7L458.1 398.2ZM408 398L411 397.4L411 399L408 399.4ZM417 395.4L421 394L424 395.4L421 397.4L417.4 397ZM427 394.2L430.6 393.8L431 395.4L427.4 395.8ZM472.1 317.9L475.7 316.4L480 317.9L484.3 316.4L485.7 319.3L481.4 321.4L475.7 320.7ZM510 307.6L514 307L514.3 309L510.3 309.4ZM502.9 313.9L508.6 313L508.9 314.4L503.1 315ZM364.4 261.6L366 258.4L370 258L373 256L376.4 258.4L380 260L386 260.4L392 261L396 261.6L397.2 263.6L397 267.6L392 269.2L386 270L380 270.6L374 270L369 268.4L364 266ZM408 283.4L411.6 283L412 284L408.4 284.2ZM426 293.2L430 292L430.6 293L426.6 294ZM367.8 326.3L368.8 324.8L373.5 322.4L374.2 318.1L376.4 316L381.3 316L385.6 314.3L390.6 312.9L394.1 313.2L396.3 315.3L397.3 318.1L394.8 319.6L392 323.1L389.1 326.3L385.6 327.4L379.9 327.7L374.2 328.1L369.2 328.5ZM402.7 304.9L405.2 302.1L409.1 300.4L413.3 299.7L416.9 299L418.6 300.4L416.9 302.1L413.3 302.9L412.3 304.4L416.2 305.4L419.7 306.3L420.4 307.8L416.9 308.9L414.7 310.3L412.9 312L414.7 313.5L417.6 315.3L419.7 318.1L421.9 321.7L423.3 325.3L426.1 328.1L429.7 330.5L429.7 332.8L426.8 334.2L425.4 336.6L421.1 337.6L415.5 338.1L409.8 337.6L404.1 338.1L398.4 337.6L393.4 338.1L388.4 338.1L387.7 337.1L391.3 335.6L395.5 334.5L399.8 335.2L403.4 334.2L401.2 332.4L397.3 331.7L394.1 330.9L393.8 329.1L396.3 328.1L399.8 327.4L402.7 326.7L399.8 325.3L400.5 323.1L404.1 322.4L407.6 321.7L409.1 319.6L407.6 317.4L404.8 316.7L402.7 313.9L401.2 311L402.7 308.2ZM396.3 303.2L400.5 302.1L401.9 303.9L399.8 306.8L396.7 306.1ZM453.1 301.1L453.6 289.7L455.7 286.9L461.4 284.7L468.6 281.9L475.7 278.3L480 274.7L482.9 271.1L483.6 265.4L484.3 262.6L490 258.3L495.7 255.4L501.4 252.6L508.6 250L515.7 248L521.4 246.9L528.6 248L532.9 249.4L538.6 250.4L538.9 258.3L540 262.6L542.9 266.9L546.4 272.6L550 278.3L553 281L553.3 285L550 287.6L542.9 291.1L537.1 293.3L531.4 295.1L525.7 295.7L522.9 294.7L520 291.9L518.3 288.3L516.7 284.7L517.9 281.4L520.3 279L523.1 276.1L525.4 273.3L526 270.9L522.9 269.4L517.9 269.7L514.3 271.1L514 274.3L512.6 277.7L509.7 280.9L505.7 283.3L502.9 286.1L502.3 289.7L504 292.6L507.9 292L511.4 288.6L514.9 285.1L516.7 284.9L516.7 295.4L512.1 295.7L510 298.3L506.4 301.9L504.3 304.7L503.1 309L502.1 312.3L498.6 314L493.6 315.4L489.3 317.6L486.4 316.6L485.4 312.9L482.9 309.7L480.7 306.1L479.3 302.6L477.4 300.4L474.3 301.4L470 304L465 305.7L460 305.4L455.7 303.3ZM387.9 347.6L394.3 346.1L401.4 346.1L405.7 345.4L408.6 343.3L414.3 344L418.6 341.9L422.9 339.7L428.6 337.6L434.3 336.1L440 334L442.9 331.9L445.7 329.4L450 328L454.3 327.1L460 326.6L464.3 325.7L463.6 324.7L464 317.6L465.7 313.3L468.6 310.9L472.1 310.4L474.3 311.4L473.6 314L472.1 316.9L474.3 319.7L478.6 323.3L482.9 322.6L485.7 321.9L490 323.3L493.9 324.9L497.4 323.6L504.3 320.7L511.4 319.4L520 318.9L524.3 318L525.7 315.4L524.3 311.1L523.6 307.6L525.1 303.7L527.9 300.9L530 295.7L537.1 292.6L544.3 291.1L548.6 295.4L550.7 302.6L555.7 307.6L561.4 309L568.6 309.7L572.9 313.3L580 316.9L584.3 319L585 323.3L591.4 321.9L597.1 324L605.7 327.6L615.7 326.9L627.1 327.6L632.9 329L637.1 334L632.9 326.9L633.6 329.7L636.4 335.1L631.4 337.6L624.3 341.9L618.6 345.4L616.9 347.6L622.9 350.4L628.3 351.9L624.3 354L619.3 356.6L615 358L610.7 355.1L606.4 354L610 350L604.3 350.4L597.9 349.7L593.6 351.1L590 354.7L589.3 359L587.1 361.1L586.9 366.9L584.3 369.7L584 372.6L588.6 375.4L597.1 379.4L588.6 380.4L584.3 382.6L588.6 380.3L582.9 383.1L580 383.9L574.3 383.1L567.1 383.9L562.9 386L558.6 388.9L555 387.4L557.1 390.3L560 394.6L563.6 400.3L564.3 408.1L563.6 408.9L561.4 408.1L557.1 406.7L552.9 404.3L549.3 400.3L545.7 398.1L541.4 394.6L537.1 392.4L533.6 391L533.6 384.6L531.4 381.7L525.7 379.6L520 378.1L514.3 376L508.6 374.6L504.3 372.4L500 368.9L496.3 368.9L491.9 364.5L485.4 366.2L487.5 372.1L494.1 378.7L507.1 383.7L515.9 390.2L527.8 391.1L527.2 393.9L519.1 393.9L516.9 398.3L518.5 402L515.4 404.2L508.9 403.3L511.1 398.9L509.3 396.1L502.8 393.3L494.1 389.6L485.4 386.3L478.8 383L472.3 378.7L470.1 373.2L464.7 371.5L459.2 372.8L452.7 375.4L446.1 377.6L439.6 376.5L433.1 375L426.5 376.5L420 385.2L424.8 381.5L417.1 384.5L406.3 388.5L399.7 392.8L398.6 396.1L393.2 399.4L386.6 403.3L380.1 405.5L369.2 404.8L358.3 405.9L351.8 407L349.6 402L342 400.4L334.4 399.4L336.5 396.1L334.8 391.7L337.6 387.4L343.1 380.8L347.4 374.3L348.5 368.9L356.1 366.7L369.2 368.4L382.3 371L395.4 372.8L399.7 369.9L401.4 366.1L403.6 361.1L402.1 358.3L400 355.4L397.1 352.6L392.9 350.4ZM597.1 379.4L605.7 375.4L612.9 371.9L618.6 370L627.1 367.6L634.3 367.6L644.3 366.9L655.7 366.1L664.3 363.3L670 360.4L678.4 359.1L687.1 361.2L693.7 364.5L698 369.9L705.7 376.5L695.9 379.8L687.1 383.7L676.3 388.5L665.4 391.1L657.7 392.8L654.5 391.7L652.3 395L643.6 396.7L637 398.9L626.1 398.9L617.4 398.3L608.7 401.1L600 402.6L597.1 399.6L588.6 394.6L585.7 389.6L584.3 385.3L588.6 383.1L597.1 379.6ZM632.7 405.5L638.1 403.3L645.8 402L644.7 404.8L639.2 407L633.8 408.1ZM569.3 413.9L580 412.9L590 412.4L589.7 413.9L580 414.9L569.7 415.3ZM487.1 404.8L491.9 403.3L500.6 403.7L507.1 404.8L506.1 408.1L500.6 409.8L494.1 409.2L487.5 407ZM460.7 380.8L464.7 379.8L466.8 383L466.2 387.4L461.8 387.4ZM457.5 390.2L462.5 388.5L467.5 390.2L467.1 397.2L462.5 398.7L458.1 397.2ZM408 397L411 396.4L411 398L408 398.4ZM417 394.4L421 393L424 394.4L421 396.4L417.4 396ZM427 393.2L430.6 392.8L431 394.4L427.4 394.8ZM472.1 316.9L475.7 315.4L480 316.9L484.3 315.4L485.7 318.3L481.4 320.4L475.7 319.7ZM510 306.6L514 306L514.3 308L510.3 308.4ZM502.9 312.9L508.6 312L508.9 313.4L503.1 314ZM364.4 260.6L366 257.4L370 257L373 255L376.4 257.4L380 259L386 259.4L392 260L396 260.6L397.2 262.6L397 266.6L392 268.2L386 269L380 269.6L374 269L369 267.4L364 265ZM408 282.4L411.6 282L412 283L408.4 283.2ZM426 292.2L430 291L430.6 292L426.6 293ZM367.8 325.3L368.8 323.8L373.5 321.4L374.2 317.1L376.4 315L381.3 315L385.6 313.3L390.6 311.9L394.1 312.2L396.3 314.3L397.3 317.1L394.8 318.6L392 322.1L389.1 325.3L385.6 326.4L379.9 326.7L374.2 327.1L369.2 327.5ZM402.7 303.9L405.2 301.1L409.1 299.4L413.3 298.7L416.9 298L418.6 299.4L416.9 301.1L413.3 301.9L412.3 303.4L416.2 304.4L419.7 305.3L420.4 306.8L416.9 307.9L414.7 309.3L412.9 311L414.7 312.5L417.6 314.3L419.7 317.1L421.9 320.7L423.3 324.3L426.1 327.1L429.7 329.5L429.7 331.8L426.8 333.2L425.4 335.6L421.1 336.6L415.5 337.1L409.8 336.6L404.1 337.1L398.4 336.6L393.4 337.1L388.4 337.1L387.7 336.1L391.3 334.6L395.5 333.5L399.8 334.2L403.4 333.2L401.2 331.4L397.3 330.7L394.1 329.9L393.8 328.1L396.3 327.1L399.8 326.4L402.7 325.7L399.8 324.3L400.5 322.1L404.1 321.4L407.6 320.7L409.1 318.6L407.6 316.4L404.8 315.7L402.7 312.9L401.2 310L402.7 307.2ZM396.3 302.2L400.5 301.1L401.9 302.9L399.8 305.8L396.7 305.1ZM453.1 300.1L453.6 288.7L455.7 285.9L461.4 283.7L468.6 280.9L475.7 277.3L480 273.7L482.9 270.1L483.6 264.4L484.3 261.6L490 257.3L495.7 254.4L501.4 251.6L508.6 249L515.7 247L521.4 245.9L528.6 247L532.9 248.4L538.6 249.4L538.9 257.3L540 261.6L542.9 265.9L546.4 271.6L550 277.3L553 280L553.3 284L550 286.6L542.9 290.1L537.1 292.3L531.4 294.1L525.7 294.7L522.9 293.7L520 290.9L518.3 287.3L516.7 283.7L517.9 280.4L520.3 278L523.1 275.1L525.4 272.3L526 269.9L522.9 268.4L517.9 268.7L514.3 270.1L514 273.3L512.6 276.7L509.7 279.9L505.7 282.3L502.9 285.1L502.3 288.7L504 291.6L507.9 291L511.4 287.6L514.9 284.1L516.7 283.9L516.7 294.4L512.1 294.7L510 297.3L506.4 300.9L504.3 303.7L503.1 308L502.1 311.3L498.6 313L493.6 314.4L489.3 316.6L486.4 315.6L485.4 311.9L482.9 308.7L480.7 305.1L479.3 301.6L477.4 299.4L474.3 300.4L470 303L465 304.7L460 304.4L455.7 302.3ZM387.9 346.6L394.3 345.1L401.4 345.1L405.7 344.4L408.6 342.3L414.3 343L418.6 340.9L422.9 338.7L428.6 336.6L434.3 335.1L440 333L442.9 330.9L445.7 328.4L450 327L454.3 326.1L460 325.6L464.3 324.7L463.6 323.7L464 316.6L465.7 312.3L468.6 309.9L472.1 309.4L474.3 310.4L473.6 313L472.1 315.9L474.3 318.7L478.6 322.3L482.9 321.6L485.7 320.9L490 322.3L493.9 323.9L497.4 322.6L504.3 319.7L511.4 318.4L520 317.9L524.3 317L525.7 314.4L524.3 310.1L523.6 306.6L525.1 302.7L527.9 299.9L530 294.7L537.1 291.6L544.3 290.1L548.6 294.4L550.7 301.6L555.7 306.6L561.4 308L568.6 308.7L572.9 312.3L580 315.9L584.3 318L585 322.3L591.4 320.9L597.1 323L605.7 326.6L615.7 325.9L627.1 326.6L632.9 328L637.1 333L632.9 325.9L633.6 328.7L636.4 334.1L631.4 336.6L624.3 340.9L618.6 344.4L616.9 346.6L622.9 349.4L628.3 350.9L624.3 353L619.3 355.6L615 357L610.7 354.1L606.4 353L610 349L604.3 349.4L597.9 348.7L593.6 350.1L590 353.7L589.3 358L587.1 360.1L586.9 365.9L584.3 368.7L584 371.6L588.6 374.4L597.1 378.4L588.6 379.4L584.3 381.6L588.6 379.3L582.9 382.1L580 382.9L574.3 382.1L567.1 382.9L562.9 385L558.6 387.9L555 386.4L557.1 389.3L560 393.6L563.6 399.3L564.3 407.1L563.6 407.9L561.4 407.1L557.1 405.7L552.9 403.3L549.3 399.3L545.7 397.1L541.4 393.6L537.1 391.4L533.6 390L533.6 383.6L531.4 380.7L525.7 378.6L520 377.1L514.3 375L508.6 373.6L504.3 371.4L500 367.9L496.3 367.9L491.9 363.5L485.4 365.2L487.5 371.1L494.1 377.7L507.1 382.7L515.9 389.2L527.8 390.1L527.2 392.9L519.1 392.9L516.9 397.3L518.5 401L515.4 403.2L508.9 402.3L511.1 397.9L509.3 395.1L502.8 392.3L494.1 388.6L485.4 385.3L478.8 382L472.3 377.7L470.1 372.2L464.7 370.5L459.2 371.8L452.7 374.4L446.1 376.6L439.6 375.5L433.1 374L426.5 375.5L420 384.2L424.8 380.5L417.1 383.5L406.3 387.5L399.7 391.8L398.6 395.1L393.2 398.4L386.6 402.3L380.1 404.5L369.2 403.8L358.3 404.9L351.8 406L349.6 401L342 399.4L334.4 398.4L336.5 395.1L334.8 390.7L337.6 386.4L343.1 379.8L347.4 373.3L348.5 367.9L356.1 365.7L369.2 367.4L382.3 370L395.4 371.8L399.7 368.9L401.4 365.1L403.6 360.1L402.1 357.3L400 354.4L397.1 351.6L392.9 349.4ZM597.1 378.4L605.7 374.4L612.9 370.9L618.6 369L627.1 366.6L634.3 366.6L644.3 365.9L655.7 365.1L664.3 362.3L670 359.4L678.4 358.1L687.1 360.2L693.7 363.5L698 368.9L705.7 375.5L695.9 378.8L687.1 382.7L676.3 387.5L665.4 390.1L657.7 391.8L654.5 390.7L652.3 394L643.6 395.7L637 397.9L626.1 397.9L617.4 397.3L608.7 400.1L600 401.6L597.1 398.6L588.6 393.6L585.7 388.6L584.3 384.3L588.6 382.1L597.1 378.6ZM632.7 404.5L638.1 402.3L645.8 401L644.7 403.8L639.2 406L633.8 407.1ZM569.3 412.9L580 411.9L590 411.4L589.7 412.9L580 413.9L569.7 414.3ZM487.1 403.8L491.9 402.3L500.6 402.7L507.1 403.8L506.1 407.1L500.6 408.8L494.1 408.2L487.5 406ZM460.7 379.8L464.7 378.8L466.8 382L466.2 386.4L461.8 386.4ZM457.5 389.2L462.5 387.5L467.5 389.2L467.1 396.2L462.5 397.7L458.1 396.2ZM408 396L411 395.4L411 397L408 397.4ZM417 393.4L421 392L424 393.4L421 395.4L417.4 395ZM427 392.2L430.6 391.8L431 393.4L427.4 393.8ZM472.1 315.9L475.7 314.4L480 315.9L484.3 314.4L485.7 317.3L481.4 319.4L475.7 318.7ZM510 305.6L514 305L514.3 307L510.3 307.4ZM502.9 311.9L508.6 311L508.9 312.4L503.1 313ZM364.4 259.6L366 256.4L370 256L373 254L376.4 256.4L380 258L386 258.4L392 259L396 259.6L397.2 261.6L397 265.6L392 267.2L386 268L380 268.6L374 268L369 266.4L364 264ZM408 281.4L411.6 281L412 282L408.4 282.2ZM426 291.2L430 290L430.6 291L426.6 292ZM367.8 324.3L368.8 322.8L373.5 320.4L374.2 316.1L376.4 314L381.3 314L385.6 312.3L390.6 310.9L394.1 311.2L396.3 313.3L397.3 316.1L394.8 317.6L392 321.1L389.1 324.3L385.6 325.4L379.9 325.7L374.2 326.1L369.2 326.5ZM402.7 302.9L405.2 300.1L409.1 298.4L413.3 297.7L416.9 297L418.6 298.4L416.9 300.1L413.3 300.9L412.3 302.4L416.2 303.4L419.7 304.3L420.4 305.8L416.9 306.9L414.7 308.3L412.9 310L414.7 311.5L417.6 313.3L419.7 316.1L421.9 319.7L423.3 323.3L426.1 326.1L429.7 328.5L429.7 330.8L426.8 332.2L425.4 334.6L421.1 335.6L415.5 336.1L409.8 335.6L404.1 336.1L398.4 335.6L393.4 336.1L388.4 336.1L387.7 335.1L391.3 333.6L395.5 332.5L399.8 333.2L403.4 332.2L401.2 330.4L397.3 329.7L394.1 328.9L393.8 327.1L396.3 326.1L399.8 325.4L402.7 324.7L399.8 323.3L400.5 321.1L404.1 320.4L407.6 319.7L409.1 317.6L407.6 315.4L404.8 314.7L402.7 311.9L401.2 309L402.7 306.2ZM396.3 301.2L400.5 300.1L401.9 301.9L399.8 304.8L396.7 304.1ZM453.1 299.1L453.6 287.7L455.7 284.9L461.4 282.7L468.6 279.9L475.7 276.3L480 272.7L482.9 269.1L483.6 263.4L484.3 260.6L490 256.3L495.7 253.4L501.4 250.6L508.6 248L515.7 246L521.4 244.9L528.6 246L532.9 247.4L538.6 248.4L538.9 256.3L540 260.6L542.9 264.9L546.4 270.6L550 276.3L553 279L553.3 283L550 285.6L542.9 289.1L537.1 291.3L531.4 293.1L525.7 293.7L522.9 292.7L520 289.9L518.3 286.3L516.7 282.7L517.9 279.4L520.3 277L523.1 274.1L525.4 271.3L526 268.9L522.9 267.4L517.9 267.7L514.3 269.1L514 272.3L512.6 275.7L509.7 278.9L505.7 281.3L502.9 284.1L502.3 287.7L504 290.6L507.9 290L511.4 286.6L514.9 283.1L516.7 282.9L516.7 293.4L512.1 293.7L510 296.3L506.4 299.9L504.3 302.7L503.1 307L502.1 310.3L498.6 312L493.6 313.4L489.3 315.6L486.4 314.6L485.4 310.9L482.9 307.7L480.7 304.1L479.3 300.6L477.4 298.4L474.3 299.4L470 302L465 303.7L460 303.4L455.7 301.3ZM387.9 345.6L394.3 344.1L401.4 344.1L405.7 343.4L408.6 341.3L414.3 342L418.6 339.9L422.9 337.7L428.6 335.6L434.3 334.1L440 332L442.9 329.9L445.7 327.4L450 326L454.3 325.1L460 324.6L464.3 323.7L463.6 322.7L464 315.6L465.7 311.3L468.6 308.9L472.1 308.4L474.3 309.4L473.6 312L472.1 314.9L474.3 317.7L478.6 321.3L482.9 320.6L485.7 319.9L490 321.3L493.9 322.9L497.4 321.6L504.3 318.7L511.4 317.4L520 316.9L524.3 316L525.7 313.4L524.3 309.1L523.6 305.6L525.1 301.7L527.9 298.9L530 293.7L537.1 290.6L544.3 289.1L548.6 293.4L550.7 300.6L555.7 305.6L561.4 307L568.6 307.7L572.9 311.3L580 314.9L584.3 317L585 321.3L591.4 319.9L597.1 322L605.7 325.6L615.7 324.9L627.1 325.6L632.9 327L637.1 332L632.9 324.9L633.6 327.7L636.4 333.1L631.4 335.6L624.3 339.9L618.6 343.4L616.9 345.6L622.9 348.4L628.3 349.9L624.3 352L619.3 354.6L615 356L610.7 353.1L606.4 352L610 348L604.3 348.4L597.9 347.7L593.6 349.1L590 352.7L589.3 357L587.1 359.1L586.9 364.9L584.3 367.7L584 370.6L588.6 373.4L597.1 377.4L588.6 378.4L584.3 380.6L588.6 378.3L582.9 381.1L580 381.9L574.3 381.1L567.1 381.9L562.9 384L558.6 386.9L555 385.4L557.1 388.3L560 392.6L563.6 398.3L564.3 406.1L563.6 406.9L561.4 406.1L557.1 404.7L552.9 402.3L549.3 398.3L545.7 396.1L541.4 392.6L537.1 390.4L533.6 389L533.6 382.6L531.4 379.7L525.7 377.6L520 376.1L514.3 374L508.6 372.6L504.3 370.4L500 366.9L496.3 366.9L491.9 362.5L485.4 364.2L487.5 370.1L494.1 376.7L507.1 381.7L515.9 388.2L527.8 389.1L527.2 391.9L519.1 391.9L516.9 396.3L518.5 400L515.4 402.2L508.9 401.3L511.1 396.9L509.3 394.1L502.8 391.3L494.1 387.6L485.4 384.3L478.8 381L472.3 376.7L470.1 371.2L464.7 369.5L459.2 370.8L452.7 373.4L446.1 375.6L439.6 374.5L433.1 373L426.5 374.5L420 383.2L424.8 379.5L417.1 382.5L406.3 386.5L399.7 390.8L398.6 394.1L393.2 397.4L386.6 401.3L380.1 403.5L369.2 402.8L358.3 403.9L351.8 405L349.6 400L342 398.4L334.4 397.4L336.5 394.1L334.8 389.7L337.6 385.4L343.1 378.8L347.4 372.3L348.5 366.9L356.1 364.7L369.2 366.4L382.3 369L395.4 370.8L399.7 367.9L401.4 364.1L403.6 359.1L402.1 356.3L400 353.4L397.1 350.6L392.9 348.4ZM597.1 377.4L605.7 373.4L612.9 369.9L618.6 368L627.1 365.6L634.3 365.6L644.3 364.9L655.7 364.1L664.3 361.3L670 358.4L678.4 357.1L687.1 359.2L693.7 362.5L698 367.9L705.7 374.5L695.9 377.8L687.1 381.7L676.3 386.5L665.4 389.1L657.7 390.8L654.5 389.7L652.3 393L643.6 394.7L637 396.9L626.1 396.9L617.4 396.3L608.7 399.1L600 400.6L597.1 397.6L588.6 392.6L585.7 387.6L584.3 383.3L588.6 381.1L597.1 377.6ZM632.7 403.5L638.1 401.3L645.8 400L644.7 402.8L639.2 405L633.8 406.1ZM569.3 411.9L580 410.9L590 410.4L589.7 411.9L580 412.9L569.7 413.3ZM487.1 402.8L491.9 401.3L500.6 401.7L507.1 402.8L506.1 406.1L500.6 407.8L494.1 407.2L487.5 405ZM460.7 378.8L464.7 377.8L466.8 381L466.2 385.4L461.8 385.4ZM457.5 388.2L462.5 386.5L467.5 388.2L467.1 395.2L462.5 396.7L458.1 395.2ZM408 395L411 394.4L411 396L408 396.4ZM417 392.4L421 391L424 392.4L421 394.4L417.4 394ZM427 391.2L430.6 390.8L431 392.4L427.4 392.8ZM472.1 314.9L475.7 313.4L480 314.9L484.3 313.4L485.7 316.3L481.4 318.4L475.7 317.7ZM510 304.6L514 304L514.3 306L510.3 306.4ZM502.9 310.9L508.6 310L508.9 311.4L503.1 312ZM364.4 258.6L366 255.4L370 255L373 253L376.4 255.4L380 257L386 257.4L392 258L396 258.6L397.2 260.6L397 264.6L392 266.2L386 267L380 267.6L374 267L369 265.4L364 263ZM408 280.4L411.6 280L412 281L408.4 281.2ZM426 290.2L430 289L430.6 290L426.6 291ZM367.8 323.3L368.8 321.8L373.5 319.4L374.2 315.1L376.4 313L381.3 313L385.6 311.3L390.6 309.9L394.1 310.2L396.3 312.3L397.3 315.1L394.8 316.6L392 320.1L389.1 323.3L385.6 324.4L379.9 324.7L374.2 325.1L369.2 325.5ZM402.7 301.9L405.2 299.1L409.1 297.4L413.3 296.7L416.9 296L418.6 297.4L416.9 299.1L413.3 299.9L412.3 301.4L416.2 302.4L419.7 303.3L420.4 304.8L416.9 305.9L414.7 307.3L412.9 309L414.7 310.5L417.6 312.3L419.7 315.1L421.9 318.7L423.3 322.3L426.1 325.1L429.7 327.5L429.7 329.8L426.8 331.2L425.4 333.6L421.1 334.6L415.5 335.1L409.8 334.6L404.1 335.1L398.4 334.6L393.4 335.1L388.4 335.1L387.7 334.1L391.3 332.6L395.5 331.5L399.8 332.2L403.4 331.2L401.2 329.4L397.3 328.7L394.1 327.9L393.8 326.1L396.3 325.1L399.8 324.4L402.7 323.7L399.8 322.3L400.5 320.1L404.1 319.4L407.6 318.7L409.1 316.6L407.6 314.4L404.8 313.7L402.7 310.9L401.2 308L402.7 305.2ZM396.3 300.2L400.5 299.1L401.9 300.9L399.8 303.8L396.7 303.1ZM453.1 298.1L453.6 286.7L455.7 283.9L461.4 281.7L468.6 278.9L475.7 275.3L480 271.7L482.9 268.1L483.6 262.4L484.3 259.6L490 255.3L495.7 252.4L501.4 249.6L508.6 247L515.7 245L521.4 243.9L528.6 245L532.9 246.4L538.6 247.4L538.9 255.3L540 259.6L542.9 263.9L546.4 269.6L550 275.3L553 278L553.3 282L550 284.6L542.9 288.1L537.1 290.3L531.4 292.1L525.7 292.7L522.9 291.7L520 288.9L518.3 285.3L516.7 281.7L517.9 278.4L520.3 276L523.1 273.1L525.4 270.3L526 267.9L522.9 266.4L517.9 266.7L514.3 268.1L514 271.3L512.6 274.7L509.7 277.9L505.7 280.3L502.9 283.1L502.3 286.7L504 289.6L507.9 289L511.4 285.6L514.9 282.1L516.7 281.9L516.7 292.4L512.1 292.7L510 295.3L506.4 298.9L504.3 301.7L503.1 306L502.1 309.3L498.6 311L493.6 312.4L489.3 314.6L486.4 313.6L485.4 309.9L482.9 306.7L480.7 303.1L479.3 299.6L477.4 297.4L474.3 298.4L470 301L465 302.7L460 302.4L455.7 300.3ZM387.9 344.6L394.3 343.1L401.4 343.1L405.7 342.4L408.6 340.3L414.3 341L418.6 338.9L422.9 336.7L428.6 334.6L434.3 333.1L440 331L442.9 328.9L445.7 326.4L450 325L454.3 324.1L460 323.6L464.3 322.7L463.6 321.7L464 314.6L465.7 310.3L468.6 307.9L472.1 307.4L474.3 308.4L473.6 311L472.1 313.9L474.3 316.7L478.6 320.3L482.9 319.6L485.7 318.9L490 320.3L493.9 321.9L497.4 320.6L504.3 317.7L511.4 316.4L520 315.9L524.3 315L525.7 312.4L524.3 308.1L523.6 304.6L525.1 300.7L527.9 297.9L530 292.7L537.1 289.6L544.3 288.1L548.6 292.4L550.7 299.6L555.7 304.6L561.4 306L568.6 306.7L572.9 310.3L580 313.9L584.3 316L585 320.3L591.4 318.9L597.1 321L605.7 324.6L615.7 323.9L627.1 324.6L632.9 326L637.1 331L632.9 323.9L633.6 326.7L636.4 332.1L631.4 334.6L624.3 338.9L618.6 342.4L616.9 344.6L622.9 347.4L628.3 348.9L624.3 351L619.3 353.6L615 355L610.7 352.1L606.4 351L610 347L604.3 347.4L597.9 346.7L593.6 348.1L590 351.7L589.3 356L587.1 358.1L586.9 363.9L584.3 366.7L584 369.6L588.6 372.4L597.1 376.4L588.6 377.4L584.3 379.6L588.6 377.3L582.9 380.1L580 380.9L574.3 380.1L567.1 380.9L562.9 383L558.6 385.9L555 384.4L557.1 387.3L560 391.6L563.6 397.3L564.3 405.1L563.6 405.9L561.4 405.1L557.1 403.7L552.9 401.3L549.3 397.3L545.7 395.1L541.4 391.6L537.1 389.4L533.6 388L533.6 381.6L531.4 378.7L525.7 376.6L520 375.1L514.3 373L508.6 371.6L504.3 369.4L500 365.9L496.3 365.9L491.9 361.5L485.4 363.2L487.5 369.1L494.1 375.7L507.1 380.7L515.9 387.2L527.8 388.1L527.2 390.9L519.1 390.9L516.9 395.3L518.5 399L515.4 401.2L508.9 400.3L511.1 395.9L509.3 393.1L502.8 390.3L494.1 386.6L485.4 383.3L478.8 380L472.3 375.7L470.1 370.2L464.7 368.5L459.2 369.8L452.7 372.4L446.1 374.6L439.6 373.5L433.1 372L426.5 373.5L420 382.2L424.8 378.5L417.1 381.5L406.3 385.5L399.7 389.8L398.6 393.1L393.2 396.4L386.6 400.3L380.1 402.5L369.2 401.8L358.3 402.9L351.8 404L349.6 399L342 397.4L334.4 396.4L336.5 393.1L334.8 388.7L337.6 384.4L343.1 377.8L347.4 371.3L348.5 365.9L356.1 363.7L369.2 365.4L382.3 368L395.4 369.8L399.7 366.9L401.4 363.1L403.6 358.1L402.1 355.3L400 352.4L397.1 349.6L392.9 347.4ZM597.1 376.4L605.7 372.4L612.9 368.9L618.6 367L627.1 364.6L634.3 364.6L644.3 363.9L655.7 363.1L664.3 360.3L670 357.4L678.4 356.1L687.1 358.2L693.7 361.5L698 366.9L705.7 373.5L695.9 376.8L687.1 380.7L676.3 385.5L665.4 388.1L657.7 389.8L654.5 388.7L652.3 392L643.6 393.7L637 395.9L626.1 395.9L617.4 395.3L608.7 398.1L600 399.6L597.1 396.6L588.6 391.6L585.7 386.6L584.3 382.3L588.6 380.1L597.1 376.6ZM632.7 402.5L638.1 400.3L645.8 399L644.7 401.8L639.2 404L633.8 405.1ZM569.3 410.9L580 409.9L590 409.4L589.7 410.9L580 411.9L569.7 412.3ZM487.1 401.8L491.9 400.3L500.6 400.7L507.1 401.8L506.1 405.1L500.6 406.8L494.1 406.2L487.5 404ZM460.7 377.8L464.7 376.8L466.8 380L466.2 384.4L461.8 384.4ZM457.5 387.2L462.5 385.5L467.5 387.2L467.1 394.2L462.5 395.7L458.1 394.2ZM408 394L411 393.4L411 395L408 395.4ZM417 391.4L421 390L424 391.4L421 393.4L417.4 393ZM427 390.2L430.6 389.8L431 391.4L427.4 391.8ZM472.1 313.9L475.7 312.4L480 313.9L484.3 312.4L485.7 315.3L481.4 317.4L475.7 316.7ZM510 303.6L514 303L514.3 305L510.3 305.4ZM502.9 309.9L508.6 309L508.9 310.4L503.1 311Z" fill="#852466" stroke="#852466" stroke-width="0.6" stroke-linejoin="round"/><path d="M364.4 257.6L366 254.4L370 254L373 252L376.4 254.4L380 256L386 256.4L392 257L396 257.6L397.2 259.6L397 263.6L392 265.2L386 266L380 266.6L374 266L369 264.4L364 262ZM408 279.4L411.6 279L412 280L408.4 280.2ZM426 289.2L430 288L430.6 289L426.6 290ZM367.8 322.3L368.8 320.8L373.5 318.4L374.2 314.1L376.4 312L381.3 312L385.6 310.3L390.6 308.9L394.1 309.2L396.3 311.3L397.3 314.1L394.8 315.6L392 319.1L389.1 322.3L385.6 323.4L379.9 323.7L374.2 324.1L369.2 324.5ZM402.7 300.9L405.2 298.1L409.1 296.4L413.3 295.7L416.9 295L418.6 296.4L416.9 298.1L413.3 298.9L412.3 300.4L416.2 301.4L419.7 302.3L420.4 303.8L416.9 304.9L414.7 306.3L412.9 308L414.7 309.5L417.6 311.3L419.7 314.1L421.9 317.7L423.3 321.3L426.1 324.1L429.7 326.5L429.7 328.8L426.8 330.2L425.4 332.6L421.1 333.6L415.5 334.1L409.8 333.6L404.1 334.1L398.4 333.6L393.4 334.1L388.4 334.1L387.7 333.1L391.3 331.6L395.5 330.5L399.8 331.2L403.4 330.2L401.2 328.4L397.3 327.7L394.1 326.9L393.8 325.1L396.3 324.1L399.8 323.4L402.7 322.7L399.8 321.3L400.5 319.1L404.1 318.4L407.6 317.7L409.1 315.6L407.6 313.4L404.8 312.7L402.7 309.9L401.2 307L402.7 304.2ZM396.3 299.2L400.5 298.1L401.9 299.9L399.8 302.8L396.7 302.1ZM453.1 297.1L453.6 285.7L455.7 282.9L461.4 280.7L468.6 277.9L475.7 274.3L480 270.7L482.9 267.1L483.6 261.4L484.3 258.6L490 254.3L495.7 251.4L501.4 248.6L508.6 246L515.7 244L521.4 242.9L528.6 244L532.9 245.4L538.6 246.4L538.9 254.3L540 258.6L542.9 262.9L546.4 268.6L550 274.3L553 277L553.3 281L550 283.6L542.9 287.1L537.1 289.3L531.4 291.1L525.7 291.7L522.9 290.7L520 287.9L518.3 284.3L516.7 280.7L517.9 277.4L520.3 275L523.1 272.1L525.4 269.3L526 266.9L522.9 265.4L517.9 265.7L514.3 267.1L514 270.3L512.6 273.7L509.7 276.9L505.7 279.3L502.9 282.1L502.3 285.7L504 288.6L507.9 288L511.4 284.6L514.9 281.1L516.7 280.9L516.7 291.4L512.1 291.7L510 294.3L506.4 297.9L504.3 300.7L503.1 305L502.1 308.3L498.6 310L493.6 311.4L489.3 313.6L486.4 312.6L485.4 308.9L482.9 305.7L480.7 302.1L479.3 298.6L477.4 296.4L474.3 297.4L470 300L465 301.7L460 301.4L455.7 299.3ZM387.9 343.6L394.3 342.1L401.4 342.1L405.7 341.4L408.6 339.3L414.3 340L418.6 337.9L422.9 335.7L428.6 333.6L434.3 332.1L440 330L442.9 327.9L445.7 325.4L450 324L454.3 323.1L460 322.6L464.3 321.7L463.6 320.7L464 313.6L465.7 309.3L468.6 306.9L472.1 306.4L474.3 307.4L473.6 310L472.1 312.9L474.3 315.7L478.6 319.3L482.9 318.6L485.7 317.9L490 319.3L493.9 320.9L497.4 319.6L504.3 316.7L511.4 315.4L520 314.9L524.3 314L525.7 311.4L524.3 307.1L523.6 303.6L525.1 299.7L527.9 296.9L530 291.7L537.1 288.6L544.3 287.1L548.6 291.4L550.7 298.6L555.7 303.6L561.4 305L568.6 305.7L572.9 309.3L580 312.9L584.3 315L585 319.3L591.4 317.9L597.1 320L605.7 323.6L615.7 322.9L627.1 323.6L632.9 325L637.1 330L632.9 322.9L633.6 325.7L636.4 331.1L631.4 333.6L624.3 337.9L618.6 341.4L616.9 343.6L622.9 346.4L628.3 347.9L624.3 350L619.3 352.6L615 354L610.7 351.1L606.4 350L610 346L604.3 346.4L597.9 345.7L593.6 347.1L590 350.7L589.3 355L587.1 357.1L586.9 362.9L584.3 365.7L584 368.6L588.6 371.4L597.1 375.4L588.6 376.4L584.3 378.6L588.6 376.3L582.9 379.1L580 379.9L574.3 379.1L567.1 379.9L562.9 382L558.6 384.9L555 383.4L557.1 386.3L560 390.6L563.6 396.3L564.3 404.1L563.6 404.9L561.4 404.1L557.1 402.7L552.9 400.3L549.3 396.3L545.7 394.1L541.4 390.6L537.1 388.4L533.6 387L533.6 380.6L531.4 377.7L525.7 375.6L520 374.1L514.3 372L508.6 370.6L504.3 368.4L500 364.9L496.3 364.9L491.9 360.5L485.4 362.2L487.5 368.1L494.1 374.7L507.1 379.7L515.9 386.2L527.8 387.1L527.2 389.9L519.1 389.9L516.9 394.3L518.5 398L515.4 400.2L508.9 399.3L511.1 394.9L509.3 392.1L502.8 389.3L494.1 385.6L485.4 382.3L478.8 379L472.3 374.7L470.1 369.2L464.7 367.5L459.2 368.8L452.7 371.4L446.1 373.6L439.6 372.5L433.1 371L426.5 372.5L420 381.2L424.8 377.5L417.1 380.5L406.3 384.5L399.7 388.8L398.6 392.1L393.2 395.4L386.6 399.3L380.1 401.5L369.2 400.8L358.3 401.9L351.8 403L349.6 398L342 396.4L334.4 395.4L336.5 392.1L334.8 387.7L337.6 383.4L343.1 376.8L347.4 370.3L348.5 364.9L356.1 362.7L369.2 364.4L382.3 367L395.4 368.8L399.7 365.9L401.4 362.1L403.6 357.1L402.1 354.3L400 351.4L397.1 348.6L392.9 346.4ZM597.1 375.4L605.7 371.4L612.9 367.9L618.6 366L627.1 363.6L634.3 363.6L644.3 362.9L655.7 362.1L664.3 359.3L670 356.4L678.4 355.1L687.1 357.2L693.7 360.5L698 365.9L705.7 372.5L695.9 375.8L687.1 379.7L676.3 384.5L665.4 387.1L657.7 388.8L654.5 387.7L652.3 391L643.6 392.7L637 394.9L626.1 394.9L617.4 394.3L608.7 397.1L600 398.6L597.1 395.6L588.6 390.6L585.7 385.6L584.3 381.3L588.6 379.1L597.1 375.6ZM632.7 401.5L638.1 399.3L645.8 398L644.7 400.8L639.2 403L633.8 404.1ZM569.3 409.9L580 408.9L590 408.4L589.7 409.9L580 410.9L569.7 411.3ZM487.1 400.8L491.9 399.3L500.6 399.7L507.1 400.8L506.1 404.1L500.6 405.8L494.1 405.2L487.5 403ZM460.7 376.8L464.7 375.8L466.8 379L466.2 383.4L461.8 383.4ZM457.5 386.2L462.5 384.5L467.5 386.2L467.1 393.2L462.5 394.7L458.1 393.2ZM408 393L411 392.4L411 394L408 394.4ZM417 390.4L421 389L424 390.4L421 392.4L417.4 392ZM427 389.2L430.6 388.8L431 390.4L427.4 390.8ZM472.1 312.9L475.7 311.4L480 312.9L484.3 311.4L485.7 314.3L481.4 316.4L475.7 315.7ZM510 302.6L514 302L514.3 304L510.3 304.4ZM502.9 308.9L508.6 308L508.9 309.4L503.1 310Z" fill="#e6e7e7"/><polygon points="515.1,278.9 516.1,278.9 517.1,291.4 516.1,291.7" fill="#852466" /><polygon points="579.3,314.6 585,314 584.7,320 582.1,318.6" fill="#852466" /><polygon points="523.6,293.6 528.6,294.6 534.3,296.4 536.4,299.3 535.7,302.6 532.1,302.1 528.6,299.3 524.3,297.1" fill="#852466" /><polygon points="501.2,414.5 502.3,414.5 502.2,421.8 501.4,421.8" fill="#852466" /><polygon points="529.7,246.9 538.6,246.6 538.9,255 535.4,255.4 533.6,252.1 530.3,251.4" fill="#852466" /><polygon points="483.6,255.4 486.9,254.3 489.3,255.4 488.3,258.6 486,261.4 483.7,264" fill="#852466" /><polygon points="555.7,383.4 562.9,381.3 568.6,379.4 577.1,379.1 582.9,380.6 585.7,385.6 588.6,390.6 597.1,395.6 602.9,397.7 610,399.4 610.7,409.1 600,409.9 597.4,412 594.6,415.1 591.4,406.6 585.7,404.9 580,403.4 574.3,404.9 571.4,404.9 564.3,404.1 563.6,396.3 560,390.6 557.1,386.3" fill="#852466" /><polygon points="571.4,394.1 572.6,393.7 573.1,404.9 571.9,404.9" fill="#ffffff" /><polygon points="576.4,392 578.3,391.7 578.6,399.4 577.1,404.9 576,404.9" fill="#ffffff" /><polygon points="582.1,397.7 583.3,397.7 583.6,404.9 582.4,405.6" fill="#ffffff" /><polygon points="591.4,404.9 592.6,404.6 592.9,411.3 591.7,412" fill="#ffffff" /><polygon points="587.1,402.7 588,402.7 588.3,407.4 587.3,407.7" fill="#ffffff" /><polygon points="486,256.9 488,256 487.7,258.3 486.3,259.7" fill="#e6e7e7" /><polygon points="571.4,383.4 574.3,382.9 575.7,384 572.9,384.9" fill="#e6e7e7" /><polygon points="580,387 583.6,386.6 584.3,388.4 580.7,388.9" fill="#e6e7e7" /><polygon points="598.6,399.7 600.7,399.4 601,400.9 599,401.1" fill="#e6e7e7" /></g>
<g id="arrow"><polygon points="294.4,228 310,237 424,171 468,146.4 481,151.6 476,132 451,129.6 449.6,137 300,224" fill="#e6e7e7" /><polygon points="463.6,104.4 475.6,110 477.1,110.2 472.7,73 471,72" fill="#c4453a" /><polygon points="426,169 463.6,104.4 465.2,105.4 427.2,170.6" fill="#7a2370" /><polygon points="411,160 426,169 463.6,104.4 475.6,110 471,72 437,87.6 448,96.4" fill="#e6007e" /><polygon points="411.6,116 427,124.4 426,169 411,160" fill="#8d3a80" /><polygon points="425.4,123.5 427,124.4 426,169 424.4,168.1" fill="#7a2370" /><polygon points="387.4,190 427,124.4 428.6,125.4 388.6,191.6" fill="#7a2370" /><polygon points="372.4,182.4 387.4,190 427,124.4 411.6,116" fill="#e6007e" /><polygon points="374,138 389,147 387.4,190 372.4,182.4" fill="#8d3a80" /><polygon points="387.4,146.1 389,147 387.4,190 385.8,189.1" fill="#7a2370" /><polygon points="349.5,212.5 389,147 390.6,148 350.7,214.1" fill="#7a2370" /><polygon points="335,205 349.5,212.5 389,147 374,138" fill="#e6007e" /><polygon points="336.4,159.4 351,168 349.5,212.5 335,205" fill="#8d3a80" /><polygon points="349.4,167.1 351,168 349.5,212.5 347.9,211.6" fill="#7a2370" /><polygon points="311,233.6 351,168 352.6,169 312.2,235.2" fill="#7a2370" /><polygon points="296.4,225 311,233.6 351,168 336.4,159.4" fill="#e6007e" /></g>
<g id="percent"><defs><linearGradient id="hole" x1="0.6" y1="0" x2="0.3" y2="1"><stop offset="0" stop-color="#a9a9a9"/><stop offset="0.5" stop-color="#e4e4e4"/><stop offset="1" stop-color="#ffffff"/></linearGradient><clipPath id="lowclip"><rect x="560" y="123" width="70" height="40"/></clipPath></defs><polygon points="518,174 535,184 616,137 599,127" fill="#e6e7e7" /><g clip-path="url(#lowclip)"><ellipse cx="0" cy="0" rx="16.9" ry="26.4" fill="#eeeeee" transform="translate(588.3 113.4) skewX(-16.70)"/><ellipse cx="0" cy="0" rx="16.9" ry="26.4" fill="#eeeeee" transform="translate(589.35 114.02) skewX(-16.70)"/><ellipse cx="0" cy="0" rx="16.9" ry="26.4" fill="#eeeeee" transform="translate(590.4 114.64) skewX(-16.70)"/><ellipse cx="0" cy="0" rx="16.9" ry="26.4" fill="#eeeeee" transform="translate(591.45 115.26) skewX(-16.70)"/><ellipse cx="0" cy="0" rx="16.9" ry="26.4" fill="#eeeeee" transform="translate(592.5 115.88) skewX(-16.70)"/><ellipse cx="0" cy="0" rx="16.9" ry="26.4" fill="#eeeeee" transform="translate(593.55 116.5) skewX(-16.70)"/><ellipse cx="0" cy="0" rx="16.9" ry="26.4" fill="#eeeeee" transform="translate(594.6 117.12) skewX(-16.70)"/><ellipse cx="0" cy="0" rx="16.9" ry="26.4" fill="#eeeeee" transform="translate(595.65 117.74) skewX(-16.70)"/><ellipse cx="0" cy="0" rx="16.9" ry="26.4" fill="#eeeeee" transform="translate(596.7 118.36) skewX(-16.70)"/><ellipse cx="0" cy="0" rx="16.9" ry="26.4" fill="#eeeeee" transform="translate(597.75 118.98) skewX(-16.70)"/></g><ellipse cx="0" cy="0" rx="16.8" ry="27" fill="#f3f3f3" transform="translate(539.8 109.4) skewX(-16.70)"/><ellipse cx="0" cy="0" rx="16.8" ry="27" fill="#efefef" transform="translate(540.85 110.02) skewX(-16.70)"/><ellipse cx="0" cy="0" rx="16.8" ry="27" fill="#efefef" transform="translate(541.9 110.64) skewX(-16.70)"/><ellipse cx="0" cy="0" rx="16.8" ry="27" fill="#efefef" transform="translate(542.95 111.26) skewX(-16.70)"/><ellipse cx="0" cy="0" rx="16.8" ry="27" fill="#efefef" transform="translate(544 111.88) skewX(-16.70)"/><ellipse cx="0" cy="0" rx="16.8" ry="27" fill="#efefef" transform="translate(545.05 112.5) skewX(-16.70)"/><ellipse cx="0" cy="0" rx="16.8" ry="27" fill="#efefef" transform="translate(546.1 113.12) skewX(-16.70)"/><ellipse cx="0" cy="0" rx="16.8" ry="27" fill="#efefef" transform="translate(547.15 113.74) skewX(-16.70)"/><ellipse cx="0" cy="0" rx="16.8" ry="27" fill="#efefef" transform="translate(548.2 114.36) skewX(-16.70)"/><ellipse cx="0" cy="0" rx="16.8" ry="27" fill="#efefef" transform="translate(549.25 114.98) skewX(-16.70)"/><polygon points="578.5,62.4 586.9,58.2 549.5,159.8 540.5,164.8" fill="#efefef" /><polygon points="579.55,63.02 587.95,58.82 550.55,160.42 541.55,165.42" fill="#e4e5e5" /><polygon points="580.6,63.64 589,59.44 551.6,161.04 542.6,166.04" fill="#e4e5e5" /><polygon points="581.65,64.26 590.05,60.06 552.65,161.66 543.65,166.66" fill="#e4e5e5" /><polygon points="582.7,64.88 591.1,60.68 553.7,162.28 544.7,167.28" fill="#e4e5e5" /><polygon points="583.75,65.5 592.15,61.3 554.75,162.9 545.75,167.9" fill="#e4e5e5" /><polygon points="584.8,66.12 593.2,61.92 555.8,163.52 546.8,168.52" fill="#e4e5e5" /><polygon points="585.85,66.74 594.25,62.54 556.85,164.14 547.85,169.14" fill="#e4e5e5" /><polygon points="586.9,67.36 595.3,63.16 557.9,164.76 548.9,169.76" fill="#e4e5e5" /><polygon points="587.95,67.98 596.35,63.78 558.95,165.38 549.95,170.38" fill="#e4e5e5" /><polygon points="578.3,62.2 586.6,58 597.4,64.4 589,68.6" fill="#f2f2f2" /><ellipse cx="0" cy="0" rx="16.9" ry="26.4" fill="#852466" transform="translate(598.8 119.6) skewX(-16.70)"/><ellipse cx="0" cy="0" rx="6.4" ry="14.6" fill="url(#hole)" transform="translate(598.4 119.6) skewX(-10.76)"/><ellipse cx="0" cy="0" rx="16.8" ry="27" fill="#852466" transform="translate(550.3 115.6) skewX(-16.70)"/><ellipse cx="0" cy="0" rx="6.5" ry="14.85" fill="url(#hole)" transform="translate(550 115.2) skewX(-9.09)"/><polygon points="589,68.6 597.4,64.4 560,166 551,171" fill="#852466" /></g>
<g id="coins"><defs><pattern id="rib" width="3.4" height="10" patternUnits="userSpaceOnUse"><rect width="3.4" height="10" fill="#eaba00"/><rect width="1.5" height="10" fill="#dba600"/></pattern><linearGradient id="sideshade" x1="0" y1="0" x2="1" y2="0"><stop offset="0" stop-color="#cf9500" stop-opacity="0.6"/><stop offset="0.2" stop-color="#d9a000" stop-opacity="0.45"/><stop offset="0.24" stop-color="#f2c400" stop-opacity="0.15"/><stop offset="0.8" stop-color="#f2c400" stop-opacity="0.15"/><stop offset="0.82" stop-color="#c98f00" stop-opacity="0.7"/><stop offset="0.92" stop-color="#cf9500" stop-opacity="0.6"/><stop offset="0.94" stop-color="#f5c800" stop-opacity="0.5"/><stop offset="1" stop-color="#f5c800" stop-opacity="0.5"/></linearGradient></defs><ellipse cx="709" cy="253.5" rx="61.5" ry="36" fill="#efe3ba"/><path d="M649 236.5 L649 251.5 A60 33.5 0 0 0 769 251.5 L769 236.5 Z" fill="url(#rib)"/><path d="M649 236.5 L649 251.5 A60 33.5 0 0 0 769 251.5 L769 236.5 Z" fill="url(#sideshade)"/><ellipse cx="709" cy="236.5" rx="60" ry="33.5" fill="#f8d27f"/><ellipse cx="705" cy="234.6" rx="57.5" ry="32" fill="#d9a23c"/><path d="M644.0 213.8 L644.0 228.3 A59.5 33.5 0 0 0 763.0 228.3 L763.0 213.8 Z" fill="url(#rib)"/><path d="M644.0 213.8 L644.0 228.3 A59.5 33.5 0 0 0 763.0 228.3 L763.0 213.8 Z" fill="url(#sideshade)"/><ellipse cx="703.5" cy="213.8" rx="59.5" ry="33.5" fill="#f8d27f"/><ellipse cx="705.5" cy="210.5" rx="56.5" ry="30.8" fill="#cf9c35"/><path d="M648 188.5 L648 203.0 A59 33.5 0 0 0 766 203.0 L766 188.5 Z" fill="url(#rib)"/><path d="M648 188.5 L648 203.0 A59 33.5 0 0 0 766 203.0 L766 188.5 Z" fill="url(#sideshade)"/><ellipse cx="707" cy="188.5" rx="59" ry="33.5" fill="#f8d27f"/><ellipse cx="707" cy="189" rx="48.5" ry="27" fill="#c99c1d"/><ellipse cx="707" cy="190.2" rx="47.5" ry="26.2" fill="#fbdc9c"/><ellipse cx="695" cy="194" rx="23" ry="11.5" fill="#dba543" transform="rotate(-6 695 194)"/><ellipse cx="717" cy="188.5" rx="19" ry="11" fill="#dba543"/><ellipse cx="701" cy="193" rx="12" ry="5" fill="#e8b95c" transform="rotate(-20 701 193)"/><polygon points="684,193.6 686.4,192 693,195 698.4,199 699,202 695,203.6 689,201 684.4,197" fill="#8a3550" /><polygon points="703.6,191 710,190 717,191.6 722,194 721.4,196.6 715,197.4 707,195 703.6,193" fill="#8a3550" /><polygon points="692,143.2 710,144.8 715,146 714.6,170 713.6,191 704,191.6 703.4,170 702.4,156 699.6,170 693,195 684.6,193 688.4,170" fill="#2d383c" /><polygon points="717.3,108.5 719.8,110.7 722.2,115.6 719.8,117.8 716.7,117.1 716.3,112.8" fill="#f3a4c7" /><polygon points="746.8,132.4 750,132 751.8,133.8 750.4,136.3 747.5,136.3" fill="#f9c4a0" /><defs><pattern id="rib2" width="2" height="2" patternUnits="userSpaceOnUse" patternTransform="rotate(20)"><rect width="2" height="2" fill="#deae1c"/><rect width="2" height="0.9" fill="#cf9d0c"/></pattern></defs><ellipse cx="727.7" cy="130.20000000000002" rx="15.4" ry="23.2" fill="url(#rib2)" transform="rotate(22 727.7 130.20000000000002)" /><ellipse cx="728.7" cy="130.65" rx="15.4" ry="23.2" fill="url(#rib2)" transform="rotate(22 728.7 130.65)" /><ellipse cx="729.7" cy="131.1" rx="15.4" ry="23.2" fill="url(#rib2)" transform="rotate(22 729.7 131.1)" /><ellipse cx="730.7" cy="131.55" rx="15.4" ry="23.2" fill="url(#rib2)" transform="rotate(22 730.7 131.55)" /><ellipse cx="731.7" cy="132.0" rx="15.4" ry="23.2" fill="url(#rib2)" transform="rotate(22 731.7 132.0)" /><ellipse cx="732.7" cy="132.45000000000002" rx="15.4" ry="23.2" fill="url(#rib2)" transform="rotate(22 732.7 132.45000000000002)" /><ellipse cx="733.7" cy="132.9" rx="15.4" ry="23.2" fill="#f6cf7b" transform="rotate(22 733.7 132.9)" /><ellipse cx="733.9" cy="132.8" rx="11.6" ry="18.3" fill="#c7a13a" transform="rotate(22 733.9 132.8)" /><ellipse cx="734.4" cy="132.4" rx="11.2" ry="17.9" fill="#d9b75e" transform="rotate(22 734.4 132.4)" /><path d="M734.3 106.8 L735.8 112.3 L742 111.6 L736.4 114.3 L738.2 123.5 L734.3 115 L726.5 116.6 L733.3 113.2 Z" fill="#fffdf2"/><polygon points="690.2,107.1 699.2,101.1 702.7,104.5 708.4,108.8 713,105 718.4,107.4 717.5,114.2 714.4,121.3 712.1,129.1 710.4,138.4 709,144.4 691.9,144.9 691.4,139.8 693.1,134.1 694.2,125.6 692.8,117.1" fill="#e6007e" /><polygon points="690.2,107.4 692.5,106 696.8,107.1 698.8,110.2 698.8,121.3 690.7,122.3 690,114.2" fill="#f3a4c7" /><polygon points="690.8,122 698.6,121.3 697.9,129.1 701.3,132.4 710.6,137.3 715.5,138.7 718.1,141.5 717.3,144.4 713.8,145.2 709.1,142.7 698.5,137.3 693.1,133.8 691.4,128.4" fill="#f9c4a0" /><polygon points="703.1,95.5 711.7,96.3 711.3,99.8 708.4,102.2 704.3,100.6" fill="#e9a985" /><polygon points="700.1,100.3 703.2,98.2 706.3,101 708.7,104.1 705.3,107.7 701.8,104.6" fill="#ffffff" /><polygon points="708.4,104.1 709.6,101.7 711.5,99.4 714,101 712.8,106.5 710.1,105.1" fill="#ffffff" /><polygon points="707.9,103.5 709.8,103.5 710.4,105.5 710.1,109.7 708.4,110 707.9,105.5" fill="#7a1c4a" /><ellipse cx="707.4" cy="89.6" rx="7.0" ry="9.3" fill="#f9c4a0" transform="rotate(8 707.4 89.6)" /><polygon points="696.1,84.2 697.2,81.3 700.1,79 704.9,77.3 708.2,77.3 709.8,80.4 707.5,81.4 703.7,82.3 701.3,84.4 700.4,87.8 701.3,91.1 702.7,95.5 699.9,93.4 697.5,89.5" fill="#2d383c" /></g>
</svg>
</body>
</html>
